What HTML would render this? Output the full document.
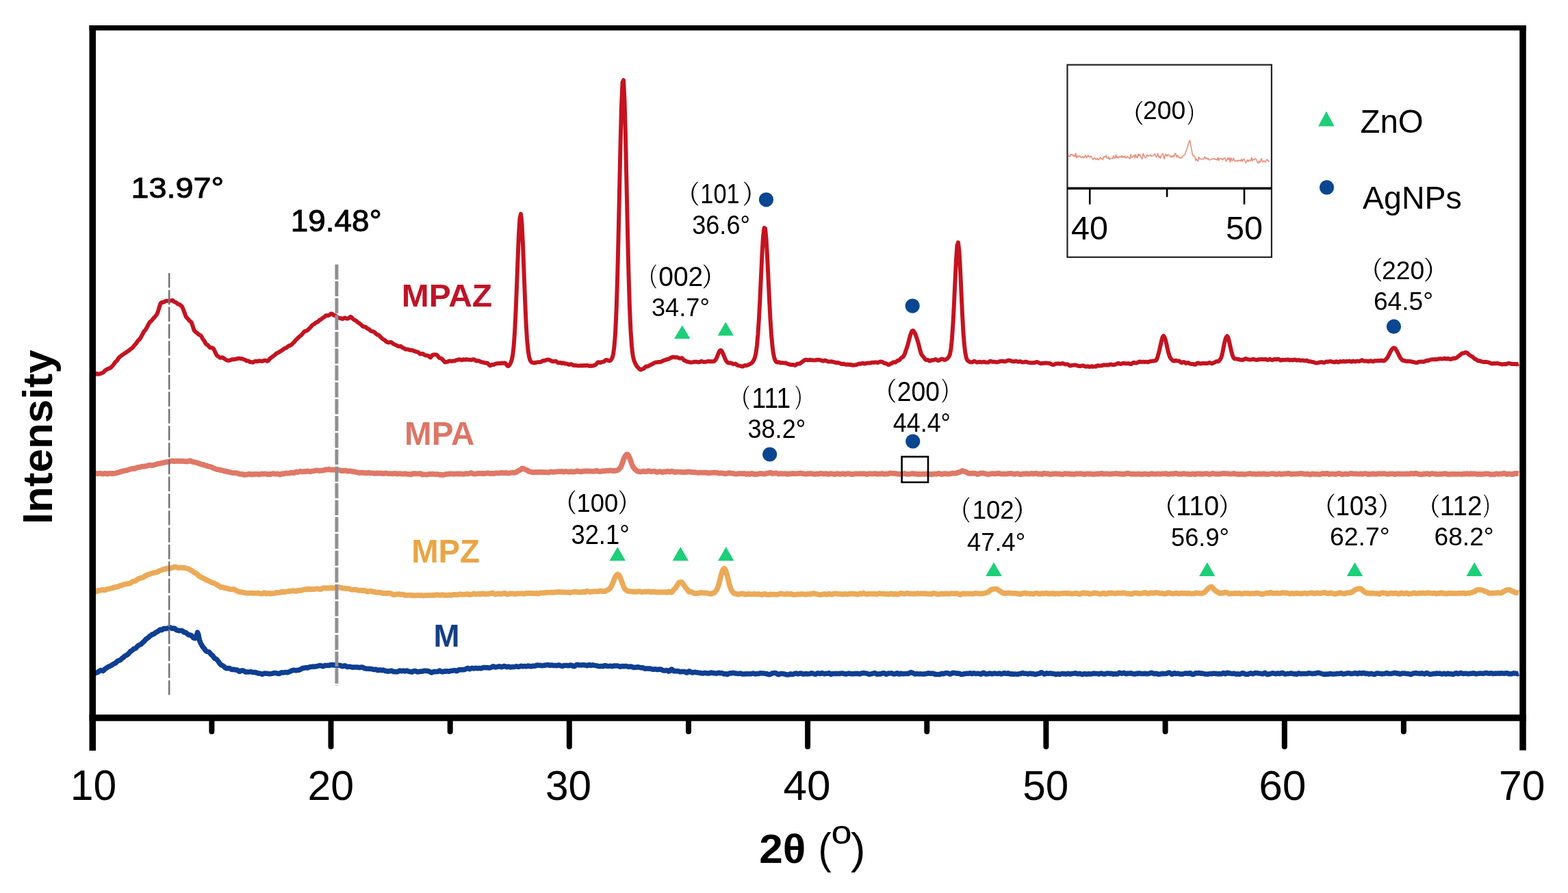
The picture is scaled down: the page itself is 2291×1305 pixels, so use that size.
<!DOCTYPE html>
<html><head><meta charset="utf-8"><title>XRD patterns</title>
<style>html,body{margin:0;padding:0;background:#fff;}svg{display:block;}</style></head>
<body>
<svg width="2291" height="1305" viewBox="0 0 2291 1305" font-family="'Liberation Sans', sans-serif">
<rect width="2291" height="1305" fill="#fff"/>
<path d="M137.0,985.5 L138.5,983.9 L140.0,983.3 L141.5,982.9 L143.0,982.1 L144.5,981.1 L146.0,980.1 L147.5,979.6 L149.0,980.0 L150.5,980.4 L152.0,979.1 L153.5,977.5 L155.0,976.6 L156.5,975.6 L158.0,974.5 L159.5,973.9 L161.0,973.3 L162.5,972.5 L164.0,971.6 L165.5,970.5 L167.0,969.7 L168.5,969.2 L170.0,967.9 L171.5,966.3 L173.0,965.4 L174.5,965.1 L176.0,964.4 L177.5,962.8 L179.0,961.6 L180.5,960.6 L182.0,959.0 L183.5,958.0 L185.0,957.5 L186.5,956.4 L188.0,955.1 L189.5,953.3 L191.0,951.6 L192.5,951.0 L194.0,949.7 L195.5,948.2 L197.0,947.9 L198.5,947.2 L200.0,945.4 L201.5,943.9 L203.0,942.9 L204.5,942.2 L206.0,941.4 L207.5,940.0 L209.0,938.6 L210.5,937.3 L212.0,935.5 L213.5,933.9 L215.0,933.1 L216.5,932.0 L218.0,930.4 L219.5,929.3 L221.0,928.2 L222.5,927.0 L224.0,926.9 L225.5,926.1 L227.0,924.6 L228.5,923.8 L230.0,923.2 L231.5,922.2 L233.0,920.7 L234.5,920.1 L236.0,920.7 L237.5,920.1 L239.0,918.7 L240.5,918.5 L242.0,918.7 L243.5,918.6 L245.0,918.3 L246.5,917.6 L248.0,916.9 L249.5,917.3 L251.0,918.2 L252.5,918.5 L254.0,918.1 L255.5,918.6 L257.0,920.1 L258.5,920.9 L260.0,921.2 L261.5,921.7 L263.0,921.6 L264.5,921.4 L266.0,921.6 L267.5,922.8 L269.0,924.0 L270.5,924.2 L272.0,924.8 L273.5,926.1 L275.0,927.3 L276.5,928.0 L278.0,928.0 L279.5,928.6 L281.0,930.3 L282.5,932.0 L284.0,932.8 L285.5,932.7 L287.0,929.3 L288.5,924.2 L290.0,928.0 L291.5,935.7 L293.0,939.5 L294.5,942.3 L296.0,945.1 L297.5,946.6 L299.0,948.6 L300.5,950.7 L302.0,952.1 L303.5,952.4 L305.0,952.6 L306.5,954.0 L308.0,955.9 L309.5,957.2 L311.0,958.4 L312.5,960.8 L314.0,962.5 L315.5,962.9 L317.0,964.1 L318.5,965.9 L320.0,968.0 L321.5,970.3 L323.0,971.7 L324.5,972.2 L326.0,973.0 L327.5,974.3 L329.0,975.7 L330.5,976.7 L332.0,976.8 L333.5,976.4 L335.0,976.4 L336.5,977.2 L338.0,978.3 L339.5,978.5 L341.0,978.2 L342.5,978.5 L344.0,979.0 L345.5,979.0 L347.0,979.3 L348.5,980.6 L350.0,981.4 L351.5,980.7 L353.0,980.0 L354.5,979.9 L356.0,980.3 L357.5,981.3 L359.0,981.9 L360.5,981.9 L362.0,982.0 L363.5,982.1 L365.0,981.9 L366.5,981.6 L368.0,982.0 L369.5,982.5 L371.0,982.5 L372.5,982.5 L374.0,982.8 L375.5,983.4 L377.0,983.9 L378.5,983.9 L380.0,984.1 L381.5,984.8 L383.0,985.3 L384.5,984.9 L386.0,984.0 L387.5,984.1 L389.0,984.2 L390.5,984.2 L392.0,984.6 L393.5,984.8 L395.0,984.6 L396.5,984.4 L398.0,984.3 L399.5,983.8 L401.0,983.5 L402.5,983.6 L404.0,983.7 L405.5,984.3 L407.0,984.6 L408.5,984.3 L410.0,983.4 L411.5,982.7 L413.0,982.9 L414.5,982.9 L416.0,982.6 L417.5,982.6 L419.0,982.7 L420.5,982.5 L422.0,981.9 L423.5,981.5 L425.0,980.7 L426.5,979.9 L428.0,979.5 L429.5,979.3 L431.0,979.6 L432.5,979.8 L434.0,979.4 L435.5,979.3 L437.0,979.2 L438.5,978.5 L440.0,977.7 L441.5,976.8 L443.0,976.3 L444.5,976.2 L446.0,975.8 L447.5,975.8 L449.0,976.0 L450.5,975.7 L452.0,975.0 L453.5,974.4 L455.0,974.4 L456.5,974.2 L458.0,974.1 L459.5,974.2 L461.0,974.0 L462.5,973.7 L464.0,973.4 L465.5,973.0 L467.0,972.6 L468.5,972.7 L470.0,973.1 L471.5,973.8 L473.0,973.6 L474.5,972.5 L476.0,972.6 L477.5,972.6 L479.0,972.4 L480.5,972.6 L482.0,972.1 L483.5,971.5 L485.0,971.8 L486.5,972.1 L488.0,971.8 L489.5,971.8 L491.0,972.5 L492.5,972.7 L494.0,972.1 L495.5,972.2 L497.0,972.5 L498.5,973.1 L500.0,973.8 L501.5,973.5 L503.0,972.8 L504.5,972.9 L506.0,973.9 L507.5,974.7 L509.0,974.3 L510.5,974.1 L512.0,974.4 L513.5,974.8 L515.0,975.3 L516.5,974.9 L518.0,974.9 L519.5,975.1 L521.0,974.9 L522.5,975.0 L524.0,975.6 L525.5,975.6 L527.0,975.1 L528.5,974.9 L530.0,975.2 L531.5,976.1 L533.0,976.8 L534.5,977.1 L536.0,977.3 L537.5,977.2 L539.0,977.2 L540.5,977.5 L542.0,977.6 L543.5,977.7 L545.0,978.2 L546.5,978.6 L548.0,978.3 L549.5,978.3 L551.0,979.1 L552.5,979.6 L554.0,979.1 L555.5,978.9 L557.0,979.4 L558.5,979.5 L560.0,979.1 L561.5,979.8 L563.0,980.4 L564.5,980.4 L566.0,981.0 L567.5,981.0 L569.0,980.7 L570.5,980.6 L572.0,980.2 L573.5,980.8 L575.0,981.5 L576.5,981.5 L578.0,981.7 L579.5,981.7 L581.0,981.5 L582.5,980.8 L584.0,980.0 L585.5,980.4 L587.0,980.8 L588.5,980.3 L590.0,980.3 L591.5,980.9 L593.0,980.6 L594.5,980.1 L596.0,980.7 L597.5,981.3 L599.0,981.4 L600.5,981.9 L602.0,982.1 L603.5,981.3 L605.0,980.4 L606.5,980.4 L608.0,981.1 L609.5,981.7 L611.0,981.7 L612.5,981.5 L614.0,981.3 L615.5,981.2 L617.0,981.1 L618.5,980.8 L620.0,980.3 L621.5,980.2 L623.0,980.5 L624.5,980.5 L626.0,980.8 L627.5,981.4 L629.0,982.1 L630.5,982.9 L632.0,982.3 L633.5,981.5 L635.0,981.7 L636.5,981.6 L638.0,981.5 L639.5,981.6 L641.0,980.7 L642.5,980.1 L644.0,981.0 L645.5,981.7 L647.0,981.8 L648.5,981.1 L650.0,980.8 L651.5,981.2 L653.0,980.7 L654.5,980.9 L656.0,981.2 L657.5,980.7 L659.0,980.2 L660.5,980.3 L662.0,980.1 L663.5,979.7 L665.0,979.8 L666.5,980.4 L668.0,980.4 L669.5,979.3 L671.0,978.6 L672.5,978.9 L674.0,978.7 L675.5,978.6 L677.0,978.7 L678.5,978.6 L680.0,978.0 L681.5,977.1 L683.0,976.4 L684.5,976.9 L686.0,977.8 L687.5,977.1 L689.0,976.4 L690.5,976.4 L692.0,976.9 L693.5,976.7 L695.0,976.3 L696.5,976.6 L698.0,976.8 L699.5,976.5 L701.0,976.4 L702.5,976.8 L704.0,976.5 L705.5,975.7 L707.0,975.4 L708.5,975.5 L710.0,975.7 L711.5,975.7 L713.0,975.8 L714.5,975.9 L716.0,975.9 L717.5,975.5 L719.0,974.5 L720.5,973.8 L722.0,974.4 L723.5,974.9 L725.0,974.8 L726.5,974.6 L728.0,974.2 L729.5,973.8 L731.0,974.1 L732.5,974.7 L734.0,974.5 L735.5,973.7 L737.0,973.4 L738.5,974.0 L740.0,974.8 L741.5,974.4 L743.0,974.1 L744.5,974.7 L746.0,975.1 L747.5,974.8 L749.0,974.6 L750.5,974.6 L752.0,974.4 L753.5,974.0 L755.0,973.8 L756.5,974.2 L758.0,974.5 L759.5,974.0 L761.0,973.2 L762.5,973.5 L764.0,973.9 L765.5,973.5 L767.0,973.6 L768.5,973.9 L770.0,973.6 L771.5,973.1 L773.0,973.2 L774.5,973.8 L776.0,973.9 L777.5,973.4 L779.0,973.1 L780.5,973.3 L782.0,973.2 L783.5,972.4 L785.0,972.0 L786.5,972.3 L788.0,972.2 L789.5,972.2 L791.0,972.7 L792.5,972.7 L794.0,972.4 L795.5,972.3 L797.0,972.0 L798.5,972.0 L800.0,971.6 L801.5,971.7 L803.0,972.4 L804.5,972.2 L806.0,971.9 L807.5,972.2 L809.0,972.5 L810.5,972.5 L812.0,972.6 L813.5,972.7 L815.0,972.2 L816.5,971.9 L818.0,972.3 L819.5,973.0 L821.0,973.4 L822.5,973.2 L824.0,972.6 L825.5,972.5 L827.0,972.6 L828.5,972.5 L830.0,972.8 L831.5,972.7 L833.0,972.1 L834.5,972.1 L836.0,972.6 L837.5,973.6 L839.0,973.8 L840.5,972.8 L842.0,971.7 L843.5,971.3 L845.0,971.8 L846.5,972.0 L848.0,971.9 L849.5,972.0 L851.0,971.7 L852.5,971.8 L854.0,972.0 L855.5,972.0 L857.0,972.7 L858.5,972.7 L860.0,971.7 L861.5,971.6 L863.0,972.4 L864.5,972.3 L866.0,971.8 L867.5,972.1 L869.0,972.4 L870.5,972.6 L872.0,973.0 L873.5,973.3 L875.0,973.8 L876.5,973.8 L878.0,973.5 L879.5,973.6 L881.0,973.7 L882.5,973.1 L884.0,972.6 L885.5,972.9 L887.0,973.4 L888.5,973.6 L890.0,973.4 L891.5,973.2 L893.0,973.5 L894.5,973.8 L896.0,973.3 L897.5,973.0 L899.0,973.0 L900.5,973.0 L902.0,973.1 L903.5,973.3 L905.0,973.9 L906.5,974.3 L908.0,973.8 L909.5,973.5 L911.0,973.8 L912.5,973.8 L914.0,973.4 L915.5,973.5 L917.0,974.1 L918.5,974.5 L920.0,974.3 L921.5,974.0 L923.0,974.2 L924.5,975.0 L926.0,975.6 L927.5,975.3 L929.0,975.2 L930.5,975.1 L932.0,974.8 L933.5,975.0 L935.0,975.4 L936.5,975.8 L938.0,975.7 L939.5,975.7 L941.0,976.8 L942.5,977.3 L944.0,976.9 L945.5,976.9 L947.0,977.2 L948.5,977.1 L950.0,977.1 L951.5,977.6 L953.0,978.0 L954.5,978.2 L956.0,978.1 L957.5,977.8 L959.0,978.2 L960.5,978.5 L962.0,978.2 L963.5,978.2 L965.0,978.1 L966.5,978.4 L968.0,979.5 L969.5,979.9 L971.0,979.9 L972.5,980.0 L974.0,979.6 L975.5,980.1 L977.0,981.1 L978.5,980.5 L980.0,978.7 L981.5,978.1 L983.0,979.5 L984.5,980.7 L986.0,980.6 L987.5,980.7 L989.0,980.9 L990.5,980.7 L992.0,981.1 L993.5,981.7 L995.0,981.7 L996.5,981.5 L998.0,981.4 L999.5,981.5 L1001.0,981.8 L1002.5,982.8 L1004.0,983.1 L1005.5,981.7 L1007.0,980.8 L1008.5,981.5 L1010.0,982.5 L1011.5,983.1 L1013.0,982.9 L1014.5,982.2 L1016.0,982.3 L1017.5,982.8 L1019.0,982.8 L1020.5,983.1 L1022.0,983.3 L1023.5,983.5 L1025.0,983.8 L1026.5,984.0 L1028.0,983.7 L1029.5,983.3 L1031.0,983.4 L1032.5,983.7 L1034.0,984.0 L1035.5,984.1 L1037.0,983.6 L1038.5,983.1 L1040.0,983.1 L1041.5,983.5 L1043.0,983.8 L1044.5,983.8 L1046.0,984.2 L1047.5,984.1 L1049.0,983.5 L1050.5,983.2 L1052.0,983.8 L1053.5,983.8 L1055.0,983.5 L1056.5,984.4 L1058.0,985.0 L1059.5,984.6 L1061.0,984.8 L1062.5,985.5 L1064.0,984.9 L1065.5,983.9 L1067.0,983.8 L1068.5,984.0 L1070.0,983.5 L1071.5,983.2 L1073.0,983.8 L1074.5,984.1 L1076.0,984.1 L1077.5,984.4 L1079.0,984.6 L1080.5,984.2 L1082.0,984.0 L1083.5,984.7 L1085.0,985.0 L1086.5,984.9 L1088.0,985.0 L1089.5,984.7 L1091.0,984.6 L1092.5,984.9 L1094.0,984.7 L1095.5,984.7 L1097.0,984.7 L1098.5,984.4 L1100.0,984.0 L1101.5,984.2 L1103.0,984.9 L1104.5,984.9 L1106.0,984.6 L1107.5,984.5 L1109.0,984.4 L1110.5,983.8 L1112.0,983.7 L1113.5,984.1 L1115.0,984.0 L1116.5,984.1 L1118.0,984.4 L1119.5,984.5 L1121.0,984.8 L1122.5,985.5 L1124.0,985.7 L1125.5,985.4 L1127.0,984.7 L1128.5,984.0 L1130.0,983.7 L1131.5,983.6 L1133.0,983.4 L1134.5,984.0 L1136.0,985.2 L1137.5,985.7 L1139.0,985.2 L1140.5,984.5 L1142.0,984.4 L1143.5,984.5 L1145.0,984.8 L1146.5,984.9 L1148.0,985.5 L1149.5,986.1 L1151.0,986.1 L1152.5,985.9 L1154.0,985.1 L1155.5,984.8 L1157.0,985.5 L1158.5,985.5 L1160.0,984.7 L1161.5,984.2 L1163.0,983.9 L1164.5,984.4 L1166.0,984.9 L1167.5,984.6 L1169.0,984.0 L1170.5,983.9 L1172.0,984.6 L1173.5,985.1 L1175.0,985.1 L1176.5,984.5 L1178.0,984.5 L1179.5,985.1 L1181.0,984.9 L1182.5,984.7 L1184.0,984.4 L1185.5,983.7 L1187.0,984.0 L1188.5,984.6 L1190.0,985.0 L1191.5,985.4 L1193.0,984.7 L1194.5,983.8 L1196.0,984.0 L1197.5,984.6 L1199.0,984.4 L1200.5,983.6 L1202.0,983.7 L1203.5,984.5 L1205.0,984.8 L1206.5,984.2 L1208.0,984.2 L1209.5,984.3 L1211.0,983.6 L1212.5,984.2 L1214.0,985.4 L1215.5,985.0 L1217.0,984.4 L1218.5,984.4 L1220.0,984.6 L1221.5,984.3 L1223.0,984.4 L1224.5,984.4 L1226.0,984.3 L1227.5,984.4 L1229.0,984.0 L1230.5,983.9 L1232.0,984.3 L1233.5,984.5 L1235.0,984.9 L1236.5,985.0 L1238.0,984.5 L1239.5,984.1 L1241.0,984.1 L1242.5,984.5 L1244.0,984.8 L1245.5,984.7 L1247.0,984.7 L1248.5,984.4 L1250.0,984.3 L1251.5,984.5 L1253.0,984.3 L1254.5,984.6 L1256.0,985.0 L1257.5,984.4 L1259.0,983.9 L1260.5,983.7 L1262.0,983.6 L1263.5,983.7 L1265.0,983.9 L1266.5,984.2 L1268.0,984.8 L1269.5,985.3 L1271.0,985.2 L1272.5,984.9 L1274.0,984.6 L1275.5,984.2 L1277.0,983.7 L1278.5,983.6 L1280.0,984.5 L1281.5,985.4 L1283.0,985.0 L1284.5,984.8 L1286.0,985.1 L1287.5,984.6 L1289.0,983.9 L1290.5,983.6 L1292.0,983.8 L1293.5,984.7 L1295.0,985.3 L1296.5,984.7 L1298.0,983.9 L1299.5,984.0 L1301.0,983.9 L1302.5,983.7 L1304.0,984.4 L1305.5,984.9 L1307.0,985.0 L1308.5,984.6 L1310.0,983.7 L1311.5,983.8 L1313.0,985.0 L1314.5,985.0 L1316.0,984.1 L1317.5,984.3 L1319.0,984.7 L1320.5,984.8 L1322.0,984.6 L1323.5,984.4 L1325.0,984.5 L1326.5,984.6 L1328.0,984.1 L1329.5,983.0 L1331.0,982.6 L1332.5,983.1 L1334.0,983.7 L1335.5,984.4 L1337.0,985.0 L1338.5,984.7 L1340.0,984.4 L1341.5,984.7 L1343.0,984.9 L1344.5,984.7 L1346.0,984.9 L1347.5,985.1 L1349.0,985.1 L1350.5,985.1 L1352.0,984.7 L1353.5,984.6 L1355.0,984.1 L1356.5,983.7 L1358.0,984.0 L1359.5,984.3 L1361.0,984.2 L1362.5,984.1 L1364.0,984.2 L1365.5,985.1 L1367.0,985.6 L1368.5,985.4 L1370.0,985.4 L1371.5,985.6 L1373.0,985.6 L1374.5,984.7 L1376.0,984.2 L1377.5,984.8 L1379.0,984.5 L1380.5,983.9 L1382.0,983.6 L1383.5,983.6 L1385.0,983.8 L1386.5,984.3 L1388.0,985.1 L1389.5,984.8 L1391.0,983.6 L1392.5,983.3 L1394.0,983.5 L1395.5,983.5 L1397.0,984.0 L1398.5,984.3 L1400.0,984.0 L1401.5,984.2 L1403.0,984.9 L1404.5,985.6 L1406.0,985.5 L1407.5,985.0 L1409.0,984.7 L1410.5,984.4 L1412.0,984.3 L1413.5,984.3 L1415.0,984.3 L1416.5,983.9 L1418.0,983.8 L1419.5,984.4 L1421.0,984.4 L1422.5,983.8 L1424.0,983.9 L1425.5,984.5 L1427.0,984.4 L1428.5,984.2 L1430.0,984.3 L1431.5,984.7 L1433.0,985.2 L1434.5,984.7 L1436.0,983.5 L1437.5,983.2 L1439.0,984.3 L1440.5,985.1 L1442.0,985.0 L1443.5,984.8 L1445.0,984.2 L1446.5,983.9 L1448.0,984.5 L1449.5,984.8 L1451.0,984.5 L1452.5,984.0 L1454.0,984.1 L1455.5,984.4 L1457.0,984.6 L1458.5,984.3 L1460.0,983.9 L1461.5,984.4 L1463.0,984.9 L1464.5,984.6 L1466.0,983.9 L1467.5,983.6 L1469.0,984.1 L1470.5,984.5 L1472.0,983.8 L1473.5,983.8 L1475.0,984.8 L1476.5,985.1 L1478.0,984.8 L1479.5,985.0 L1481.0,985.2 L1482.5,985.1 L1484.0,985.1 L1485.5,985.3 L1487.0,985.3 L1488.5,985.0 L1490.0,984.5 L1491.5,984.4 L1493.0,983.8 L1494.5,983.6 L1496.0,984.2 L1497.5,984.3 L1499.0,984.3 L1500.5,984.5 L1502.0,985.0 L1503.5,984.6 L1505.0,984.0 L1506.5,984.5 L1508.0,984.8 L1509.5,984.5 L1511.0,985.0 L1512.5,985.7 L1514.0,985.3 L1515.5,984.6 L1517.0,984.4 L1518.5,984.3 L1520.0,983.3 L1521.5,982.6 L1523.0,983.3 L1524.5,984.3 L1526.0,985.1 L1527.5,984.7 L1529.0,983.8 L1530.5,983.9 L1532.0,984.3 L1533.5,984.1 L1535.0,984.0 L1536.5,984.3 L1538.0,984.5 L1539.5,984.6 L1541.0,984.9 L1542.5,985.5 L1544.0,985.2 L1545.5,984.7 L1547.0,985.3 L1548.5,985.4 L1550.0,984.9 L1551.5,984.5 L1553.0,984.5 L1554.5,984.7 L1556.0,984.8 L1557.5,985.1 L1559.0,984.8 L1560.5,984.2 L1562.0,984.4 L1563.5,985.0 L1565.0,984.9 L1566.5,984.4 L1568.0,984.3 L1569.5,984.1 L1571.0,983.7 L1572.5,984.0 L1574.0,984.8 L1575.5,984.7 L1577.0,984.3 L1578.5,984.5 L1580.0,985.3 L1581.5,985.5 L1583.0,984.9 L1584.5,984.5 L1586.0,984.7 L1587.5,985.3 L1589.0,985.1 L1590.5,984.6 L1592.0,984.9 L1593.5,985.0 L1595.0,984.8 L1596.5,984.6 L1598.0,984.1 L1599.5,984.2 L1601.0,984.6 L1602.5,984.4 L1604.0,984.5 L1605.5,985.1 L1607.0,984.7 L1608.5,984.0 L1610.0,984.2 L1611.5,984.9 L1613.0,985.1 L1614.5,985.0 L1616.0,984.6 L1617.5,983.9 L1619.0,983.9 L1620.5,984.2 L1622.0,984.5 L1623.5,984.2 L1625.0,984.4 L1626.5,985.2 L1628.0,984.9 L1629.5,984.6 L1631.0,985.1 L1632.5,985.1 L1634.0,984.1 L1635.5,983.0 L1637.0,983.5 L1638.5,984.3 L1640.0,984.0 L1641.5,983.2 L1643.0,983.4 L1644.5,984.6 L1646.0,984.7 L1647.5,984.1 L1649.0,984.2 L1650.5,984.1 L1652.0,983.8 L1653.5,984.1 L1655.0,984.6 L1656.5,985.0 L1658.0,985.1 L1659.5,984.6 L1661.0,984.3 L1662.5,984.4 L1664.0,983.9 L1665.5,984.0 L1667.0,984.6 L1668.5,984.5 L1670.0,984.5 L1671.5,984.5 L1673.0,984.2 L1674.5,984.6 L1676.0,984.7 L1677.5,984.6 L1679.0,984.4 L1680.5,983.7 L1682.0,983.2 L1683.5,983.6 L1685.0,984.1 L1686.5,984.7 L1688.0,984.6 L1689.5,984.2 L1691.0,984.6 L1692.5,985.3 L1694.0,985.3 L1695.5,984.9 L1697.0,984.6 L1698.5,984.3 L1700.0,984.4 L1701.5,984.6 L1703.0,984.5 L1704.5,984.3 L1706.0,983.6 L1707.5,983.0 L1709.0,983.2 L1710.5,984.1 L1712.0,985.2 L1713.5,985.0 L1715.0,983.9 L1716.5,983.6 L1718.0,984.5 L1719.5,984.5 L1721.0,984.1 L1722.5,984.6 L1724.0,985.0 L1725.5,985.1 L1727.0,985.0 L1728.5,984.9 L1730.0,984.5 L1731.5,984.0 L1733.0,983.9 L1734.5,984.2 L1736.0,984.4 L1737.5,983.8 L1739.0,983.6 L1740.5,984.6 L1742.0,985.4 L1743.5,985.5 L1745.0,984.9 L1746.5,983.8 L1748.0,983.6 L1749.5,984.0 L1751.0,983.8 L1752.5,983.4 L1754.0,984.0 L1755.5,984.3 L1757.0,984.0 L1758.5,984.5 L1760.0,984.9 L1761.5,984.9 L1763.0,985.1 L1764.5,985.2 L1766.0,984.9 L1767.5,984.6 L1769.0,984.6 L1770.5,984.7 L1772.0,984.3 L1773.5,984.1 L1775.0,984.4 L1776.5,984.3 L1778.0,984.6 L1779.5,985.0 L1781.0,984.7 L1782.5,984.6 L1784.0,985.0 L1785.5,984.6 L1787.0,983.5 L1788.5,983.7 L1790.0,984.8 L1791.5,984.4 L1793.0,983.2 L1794.5,983.3 L1796.0,983.9 L1797.5,984.0 L1799.0,984.4 L1800.5,984.6 L1802.0,984.3 L1803.5,984.1 L1805.0,984.8 L1806.5,985.2 L1808.0,984.7 L1809.5,985.0 L1811.0,985.2 L1812.5,984.9 L1814.0,984.2 L1815.5,983.6 L1817.0,983.9 L1818.5,984.7 L1820.0,985.3 L1821.5,985.3 L1823.0,985.3 L1824.5,984.9 L1826.0,984.1 L1827.5,983.8 L1829.0,984.3 L1830.5,984.7 L1832.0,984.2 L1833.5,983.6 L1835.0,983.5 L1836.5,983.6 L1838.0,983.9 L1839.5,983.9 L1841.0,984.1 L1842.5,984.5 L1844.0,984.8 L1845.5,984.8 L1847.0,983.7 L1848.5,983.3 L1850.0,984.6 L1851.5,985.5 L1853.0,985.4 L1854.5,984.9 L1856.0,984.7 L1857.5,984.2 L1859.0,983.7 L1860.5,983.9 L1862.0,984.3 L1863.5,984.6 L1865.0,984.7 L1866.5,984.0 L1868.0,984.1 L1869.5,984.6 L1871.0,984.1 L1872.5,983.4 L1874.0,983.3 L1875.5,984.1 L1877.0,985.0 L1878.5,985.0 L1880.0,984.6 L1881.5,984.4 L1883.0,984.6 L1884.5,984.4 L1886.0,983.9 L1887.5,984.0 L1889.0,984.6 L1890.5,984.9 L1892.0,984.7 L1893.5,985.0 L1895.0,985.2 L1896.5,984.2 L1898.0,983.8 L1899.5,984.6 L1901.0,984.7 L1902.5,984.5 L1904.0,984.4 L1905.5,984.4 L1907.0,984.4 L1908.5,984.5 L1910.0,984.4 L1911.5,983.8 L1913.0,983.7 L1914.5,984.1 L1916.0,984.3 L1917.5,984.5 L1919.0,984.4 L1920.5,984.1 L1922.0,984.2 L1923.5,983.8 L1925.0,983.3 L1926.5,983.3 L1928.0,983.6 L1929.5,984.0 L1931.0,984.5 L1932.5,984.9 L1934.0,985.2 L1935.5,985.5 L1937.0,985.3 L1938.5,984.9 L1940.0,985.3 L1941.5,985.1 L1943.0,984.5 L1944.5,984.6 L1946.0,985.0 L1947.5,984.9 L1949.0,984.9 L1950.5,984.9 L1952.0,984.7 L1953.5,984.4 L1955.0,984.4 L1956.5,984.4 L1958.0,984.2 L1959.5,983.8 L1961.0,984.4 L1962.5,985.1 L1964.0,984.9 L1965.5,984.6 L1967.0,984.4 L1968.5,983.9 L1970.0,983.7 L1971.5,983.9 L1973.0,984.4 L1974.5,984.5 L1976.0,984.4 L1977.5,984.2 L1979.0,983.7 L1980.5,983.6 L1982.0,984.4 L1983.5,984.7 L1985.0,983.8 L1986.5,983.3 L1988.0,984.0 L1989.5,984.2 L1991.0,983.6 L1992.5,983.5 L1994.0,983.8 L1995.5,984.4 L1997.0,984.3 L1998.5,984.3 L2000.0,985.0 L2001.5,984.7 L2003.0,984.3 L2004.5,984.6 L2006.0,985.0 L2007.5,985.6 L2009.0,985.3 L2010.5,984.3 L2012.0,983.9 L2013.5,983.9 L2015.0,984.2 L2016.5,984.4 L2018.0,984.5 L2019.5,984.9 L2021.0,984.6 L2022.5,984.4 L2024.0,984.3 L2025.5,983.4 L2027.0,983.6 L2028.5,984.4 L2030.0,984.4 L2031.5,984.4 L2033.0,984.3 L2034.5,984.1 L2036.0,983.8 L2037.5,983.2 L2039.0,983.4 L2040.5,984.2 L2042.0,984.0 L2043.5,984.1 L2045.0,985.0 L2046.5,985.0 L2048.0,984.2 L2049.5,983.9 L2051.0,983.9 L2052.5,984.0 L2054.0,984.4 L2055.5,984.5 L2057.0,984.6 L2058.5,984.8 L2060.0,985.2 L2061.5,985.6 L2063.0,985.0 L2064.5,984.1 L2066.0,984.1 L2067.5,983.7 L2069.0,983.6 L2070.5,984.1 L2072.0,984.1 L2073.5,984.2 L2075.0,984.5 L2076.5,984.0 L2078.0,983.8 L2079.5,984.5 L2081.0,985.0 L2082.5,984.4 L2084.0,983.6 L2085.5,983.6 L2087.0,984.5 L2088.5,985.3 L2090.0,985.3 L2091.5,985.1 L2093.0,984.9 L2094.5,984.5 L2096.0,984.5 L2097.5,984.4 L2099.0,983.9 L2100.5,984.2 L2102.0,984.3 L2103.5,984.1 L2105.0,984.6 L2106.5,985.0 L2108.0,984.7 L2109.5,984.2 L2111.0,984.5 L2112.5,985.1 L2114.0,984.8 L2115.5,984.1 L2117.0,984.5 L2118.5,984.9 L2120.0,984.6 L2121.5,985.0 L2123.0,985.5 L2124.5,984.8 L2126.0,984.0 L2127.5,983.6 L2129.0,984.1 L2130.5,984.8 L2132.0,984.3 L2133.5,983.5 L2135.0,983.6 L2136.5,984.2 L2138.0,984.4 L2139.5,984.3 L2141.0,984.3 L2142.5,984.3 L2144.0,984.4 L2145.5,984.7 L2147.0,984.5 L2148.5,984.2 L2150.0,984.2 L2151.5,984.1 L2153.0,983.8 L2154.5,984.1 L2156.0,984.7 L2157.5,984.8 L2159.0,984.4 L2160.5,984.2 L2162.0,984.1 L2163.5,983.9 L2165.0,984.1 L2166.5,984.4 L2168.0,984.2 L2169.5,983.7 L2171.0,983.4 L2172.5,983.4 L2174.0,984.0 L2175.5,984.2 L2177.0,984.0 L2178.5,983.8 L2180.0,984.0 L2181.5,984.6 L2183.0,984.4 L2184.5,984.0 L2186.0,984.2 L2187.5,984.1 L2189.0,983.9 L2190.5,984.2 L2192.0,984.1 L2193.5,983.8 L2195.0,983.9 L2196.5,984.1 L2198.0,984.2 L2199.5,983.9 L2201.0,983.6 L2202.5,983.8 L2204.0,984.5 L2205.5,984.8 L2207.0,984.8 L2208.5,984.8 L2210.0,984.3 L2211.5,983.8 L2213.0,984.0 L2214.5,984.0 L2216.0,984.4 L2217.5,984.7 L2219.0,984.3" fill="none" stroke="#0f3f92" stroke-width="7.5" stroke-linejoin="round"/><path d="M137.0,864.4 L138.5,864.5 L140.0,864.8 L141.5,864.1 L143.0,863.1 L144.5,862.9 L146.0,862.8 L147.5,862.4 L149.0,861.9 L150.5,862.0 L152.0,862.3 L153.5,862.2 L155.0,861.8 L156.5,861.0 L158.0,860.7 L159.5,860.6 L161.0,860.1 L162.5,859.8 L164.0,859.5 L165.5,858.7 L167.0,858.3 L168.5,858.0 L170.0,857.9 L171.5,857.7 L173.0,857.2 L174.5,856.2 L176.0,855.6 L177.5,855.5 L179.0,854.9 L180.5,854.1 L182.0,853.9 L183.5,853.6 L185.0,853.1 L186.5,853.1 L188.0,852.9 L189.5,852.6 L191.0,852.0 L192.5,850.6 L194.0,849.8 L195.5,849.5 L197.0,849.2 L198.5,848.5 L200.0,847.2 L201.5,846.3 L203.0,845.6 L204.5,845.0 L206.0,844.5 L207.5,844.2 L209.0,843.9 L210.5,842.7 L212.0,841.8 L213.5,841.1 L215.0,840.2 L216.5,839.5 L218.0,839.2 L219.5,838.7 L221.0,838.1 L222.5,837.8 L224.0,837.3 L225.5,836.8 L227.0,836.6 L228.5,836.2 L230.0,835.7 L231.5,834.9 L233.0,834.2 L234.5,833.6 L236.0,833.0 L237.5,832.7 L239.0,831.8 L240.5,831.4 L242.0,831.6 L243.5,830.7 L245.0,830.3 L246.5,830.7 L248.0,830.6 L249.5,830.2 L251.0,829.7 L252.5,829.2 L254.0,828.6 L255.5,828.3 L257.0,828.6 L258.5,829.1 L260.0,829.7 L261.5,829.8 L263.0,829.5 L264.5,829.7 L266.0,829.8 L267.5,829.8 L269.0,829.7 L270.5,829.9 L272.0,830.4 L273.5,830.9 L275.0,831.4 L276.5,832.0 L278.0,832.7 L279.5,833.5 L281.0,834.5 L282.5,835.8 L284.0,836.7 L285.5,837.4 L287.0,838.3 L288.5,839.6 L290.0,841.0 L291.5,842.1 L293.0,843.0 L294.5,843.9 L296.0,844.7 L297.5,845.2 L299.0,845.9 L300.5,847.0 L302.0,847.8 L303.5,848.3 L305.0,849.1 L306.5,849.6 L308.0,850.4 L309.5,851.3 L311.0,851.7 L312.5,852.1 L314.0,852.8 L315.5,853.5 L317.0,854.7 L318.5,855.4 L320.0,856.2 L321.5,857.7 L323.0,858.2 L324.5,858.0 L326.0,858.3 L327.5,859.1 L329.0,859.5 L330.5,859.4 L332.0,859.8 L333.5,860.5 L335.0,860.8 L336.5,861.2 L338.0,861.3 L339.5,861.2 L341.0,861.0 L342.5,861.3 L344.0,862.5 L345.5,863.5 L347.0,863.7 L348.5,864.5 L350.0,865.0 L351.5,865.0 L353.0,865.3 L354.5,865.6 L356.0,865.8 L357.5,866.2 L359.0,866.5 L360.5,866.8 L362.0,866.8 L363.5,866.6 L365.0,866.6 L366.5,866.5 L368.0,866.6 L369.5,866.8 L371.0,866.8 L372.5,866.8 L374.0,866.8 L375.5,866.6 L377.0,866.6 L378.5,866.9 L380.0,867.3 L381.5,867.5 L383.0,867.8 L384.5,867.0 L386.0,866.1 L387.5,866.8 L389.0,867.7 L390.5,867.5 L392.0,867.0 L393.5,867.0 L395.0,867.5 L396.5,867.5 L398.0,867.2 L399.5,867.1 L401.0,867.1 L402.5,866.6 L404.0,865.9 L405.5,866.0 L407.0,866.0 L408.5,865.8 L410.0,865.7 L411.5,865.0 L413.0,864.4 L414.5,865.2 L416.0,865.5 L417.5,864.8 L419.0,864.5 L420.5,864.2 L422.0,863.9 L423.5,864.0 L425.0,863.9 L426.5,863.5 L428.0,863.2 L429.5,863.3 L431.0,863.9 L432.5,864.0 L434.0,863.5 L435.5,862.8 L437.0,862.6 L438.5,863.0 L440.0,862.9 L441.5,862.2 L443.0,861.9 L444.5,861.4 L446.0,861.4 L447.5,861.6 L449.0,860.9 L450.5,860.7 L452.0,861.2 L453.5,861.4 L455.0,861.2 L456.5,861.1 L458.0,860.9 L459.5,861.0 L461.0,860.8 L462.5,860.5 L464.0,860.5 L465.5,860.7 L467.0,861.1 L468.5,861.2 L470.0,860.4 L471.5,859.7 L473.0,859.2 L474.5,859.2 L476.0,859.5 L477.5,859.5 L479.0,859.4 L480.5,859.5 L482.0,859.3 L483.5,858.7 L485.0,858.8 L486.5,859.5 L488.0,859.4 L489.5,859.1 L491.0,859.1 L492.5,858.7 L494.0,858.2 L495.5,858.1 L497.0,858.6 L498.5,859.2 L500.0,859.5 L501.5,859.7 L503.0,859.6 L504.5,859.9 L506.0,860.2 L507.5,860.1 L509.0,860.1 L510.5,860.5 L512.0,861.1 L513.5,861.6 L515.0,861.8 L516.5,861.7 L518.0,861.7 L519.5,861.7 L521.0,861.9 L522.5,862.4 L524.0,862.9 L525.5,862.8 L527.0,862.6 L528.5,862.9 L530.0,863.1 L531.5,863.0 L533.0,863.0 L534.5,863.6 L536.0,864.5 L537.5,864.6 L539.0,864.2 L540.5,863.8 L542.0,863.8 L543.5,864.3 L545.0,864.8 L546.5,865.0 L548.0,865.0 L549.5,865.6 L551.0,865.9 L552.5,865.7 L554.0,865.8 L555.5,865.9 L557.0,866.2 L558.5,866.8 L560.0,867.1 L561.5,866.8 L563.0,866.9 L564.5,867.1 L566.0,866.8 L567.5,866.8 L569.0,866.9 L570.5,867.2 L572.0,867.8 L573.5,868.6 L575.0,869.1 L576.5,869.2 L578.0,868.8 L579.5,868.4 L581.0,868.3 L582.5,868.1 L584.0,868.2 L585.5,868.9 L587.0,868.8 L588.5,868.5 L590.0,869.0 L591.5,869.8 L593.0,870.0 L594.5,869.8 L596.0,869.8 L597.5,869.7 L599.0,869.7 L600.5,870.0 L602.0,870.0 L603.5,870.0 L605.0,870.4 L606.5,870.2 L608.0,870.1 L609.5,869.9 L611.0,869.8 L612.5,870.1 L614.0,870.2 L615.5,869.9 L617.0,870.2 L618.5,870.6 L620.0,870.2 L621.5,870.1 L623.0,870.2 L624.5,870.0 L626.0,869.9 L627.5,869.9 L629.0,870.0 L630.5,869.8 L632.0,869.8 L633.5,870.1 L635.0,869.9 L636.5,869.4 L638.0,869.2 L639.5,869.3 L641.0,869.5 L642.5,869.8 L644.0,869.7 L645.5,869.2 L647.0,869.3 L648.5,869.8 L650.0,869.7 L651.5,869.8 L653.0,870.0 L654.5,869.7 L656.0,869.4 L657.5,869.6 L659.0,869.9 L660.5,869.6 L662.0,869.1 L663.5,868.9 L665.0,868.9 L666.5,869.2 L668.0,869.3 L669.5,868.9 L671.0,868.3 L672.5,868.2 L674.0,868.7 L675.5,868.8 L677.0,868.7 L678.5,868.8 L680.0,868.5 L681.5,868.2 L683.0,868.1 L684.5,868.4 L686.0,869.2 L687.5,868.9 L689.0,868.5 L690.5,868.2 L692.0,867.6 L693.5,867.9 L695.0,868.3 L696.5,868.2 L698.0,868.0 L699.5,867.8 L701.0,868.2 L702.5,868.3 L704.0,867.4 L705.5,867.3 L707.0,867.9 L708.5,868.1 L710.0,868.0 L711.5,868.2 L713.0,868.0 L714.5,867.6 L716.0,867.6 L717.5,867.2 L719.0,866.6 L720.5,866.9 L722.0,867.9 L723.5,868.4 L725.0,868.3 L726.5,867.6 L728.0,867.5 L729.5,867.9 L731.0,867.9 L732.5,868.0 L734.0,867.8 L735.5,867.1 L737.0,866.6 L738.5,867.3 L740.0,868.2 L741.5,868.5 L743.0,868.2 L744.5,867.6 L746.0,867.3 L747.5,867.3 L749.0,867.6 L750.5,867.7 L752.0,868.0 L753.5,868.1 L755.0,867.6 L756.5,867.3 L758.0,867.3 L759.5,867.5 L761.0,867.4 L762.5,867.3 L764.0,867.7 L765.5,867.9 L767.0,867.5 L768.5,866.9 L770.0,866.8 L771.5,867.0 L773.0,866.9 L774.5,866.8 L776.0,867.1 L777.5,867.2 L779.0,867.0 L780.5,867.4 L782.0,867.4 L783.5,866.9 L785.0,867.4 L786.5,867.7 L788.0,867.0 L789.5,866.5 L791.0,866.3 L792.5,866.4 L794.0,866.5 L795.5,866.4 L797.0,866.0 L798.5,865.9 L800.0,865.9 L801.5,865.8 L803.0,865.9 L804.5,865.8 L806.0,865.7 L807.5,865.9 L809.0,865.8 L810.5,865.3 L812.0,865.5 L813.5,865.4 L815.0,865.1 L816.5,865.0 L818.0,865.1 L819.5,865.3 L821.0,865.4 L822.5,865.4 L824.0,865.5 L825.5,865.5 L827.0,865.7 L828.5,865.7 L830.0,865.3 L831.5,865.8 L833.0,866.1 L834.5,865.5 L836.0,865.3 L837.5,865.2 L839.0,865.0 L840.5,864.9 L842.0,864.9 L843.5,865.3 L845.0,865.3 L846.5,865.3 L848.0,865.5 L849.5,865.5 L851.0,865.0 L852.5,864.9 L854.0,865.4 L855.5,865.1 L857.0,863.9 L858.5,863.7 L860.0,864.4 L861.5,865.0 L863.0,865.0 L864.5,864.6 L866.0,864.6 L867.5,864.5 L869.0,864.2 L870.5,864.3 L872.0,864.3 L873.5,864.3 L875.0,864.1 L876.5,863.6 L878.0,863.6 L879.5,864.0 L881.0,864.1 L882.5,864.1 L884.0,864.1 L885.5,863.4 L887.0,862.5 L888.5,862.0 L890.0,861.0 L891.5,859.4 L893.0,857.2 L894.5,854.1 L896.0,850.5 L897.5,846.5 L899.0,843.0 L900.5,840.6 L902.0,839.4 L903.5,839.7 L905.0,841.5 L906.5,844.7 L908.0,848.6 L909.5,852.8 L911.0,857.0 L912.5,860.0 L914.0,861.6 L915.5,862.7 L917.0,863.7 L918.5,864.1 L920.0,864.1 L921.5,864.3 L923.0,864.4 L924.5,864.6 L926.0,865.0 L927.5,864.7 L929.0,864.6 L930.5,864.8 L932.0,864.5 L933.5,864.2 L935.0,864.4 L936.5,865.0 L938.0,865.2 L939.5,865.0 L941.0,864.7 L942.5,864.7 L944.0,864.9 L945.5,864.7 L947.0,864.5 L948.5,864.5 L950.0,864.7 L951.5,865.2 L953.0,865.1 L954.5,864.7 L956.0,865.1 L957.5,865.2 L959.0,865.4 L960.5,865.5 L962.0,865.2 L963.5,865.3 L965.0,865.5 L966.5,865.3 L968.0,865.2 L969.5,865.4 L971.0,865.3 L972.5,865.2 L974.0,865.8 L975.5,865.4 L977.0,864.5 L978.5,864.8 L980.0,865.7 L981.5,865.3 L983.0,863.6 L984.5,861.6 L986.0,860.3 L987.5,858.8 L989.0,856.3 L990.5,853.6 L992.0,851.7 L993.5,850.8 L995.0,850.6 L996.5,851.3 L998.0,853.2 L999.5,855.5 L1001.0,857.6 L1002.5,859.3 L1004.0,861.2 L1005.5,863.4 L1007.0,864.9 L1008.5,865.0 L1010.0,864.8 L1011.5,865.5 L1013.0,866.5 L1014.5,867.2 L1016.0,867.1 L1017.5,867.0 L1019.0,867.2 L1020.5,867.0 L1022.0,866.3 L1023.5,865.9 L1025.0,866.1 L1026.5,866.3 L1028.0,866.6 L1029.5,866.6 L1031.0,866.5 L1032.5,866.6 L1034.0,867.0 L1035.5,867.4 L1037.0,867.6 L1038.5,868.0 L1040.0,867.7 L1041.5,866.7 L1043.0,866.5 L1044.5,865.5 L1046.0,863.5 L1047.5,861.2 L1049.0,857.8 L1050.5,852.8 L1052.0,846.9 L1053.5,841.1 L1055.0,836.1 L1056.5,832.2 L1058.0,830.8 L1059.5,832.1 L1061.0,835.8 L1062.5,841.0 L1064.0,846.9 L1065.5,853.3 L1067.0,858.5 L1068.5,862.1 L1070.0,864.6 L1071.5,866.2 L1073.0,867.4 L1074.5,867.6 L1076.0,867.8 L1077.5,868.4 L1079.0,868.6 L1080.5,868.1 L1082.0,867.7 L1083.5,867.6 L1085.0,867.4 L1086.5,867.7 L1088.0,868.4 L1089.5,868.8 L1091.0,868.5 L1092.5,868.1 L1094.0,868.0 L1095.5,868.0 L1097.0,868.3 L1098.5,868.5 L1100.0,868.2 L1101.5,868.0 L1103.0,868.0 L1104.5,868.3 L1106.0,868.4 L1107.5,868.1 L1109.0,868.2 L1110.5,868.6 L1112.0,869.0 L1113.5,869.0 L1115.0,868.5 L1116.5,867.9 L1118.0,867.9 L1119.5,868.8 L1121.0,869.2 L1122.5,869.2 L1124.0,869.0 L1125.5,868.5 L1127.0,868.6 L1128.5,868.8 L1130.0,868.5 L1131.5,868.6 L1133.0,868.7 L1134.5,868.9 L1136.0,868.9 L1137.5,868.4 L1139.0,867.8 L1140.5,867.4 L1142.0,867.6 L1143.5,868.0 L1145.0,868.2 L1146.5,868.3 L1148.0,868.4 L1149.5,867.9 L1151.0,867.6 L1152.5,868.2 L1154.0,868.4 L1155.5,867.9 L1157.0,868.2 L1158.5,869.0 L1160.0,869.2 L1161.5,869.0 L1163.0,868.8 L1164.5,868.4 L1166.0,868.3 L1167.5,868.4 L1169.0,868.3 L1170.5,868.1 L1172.0,868.2 L1173.5,868.4 L1175.0,868.4 L1176.5,868.6 L1178.0,868.8 L1179.5,868.3 L1181.0,868.1 L1182.5,868.4 L1184.0,868.0 L1185.5,867.9 L1187.0,867.7 L1188.5,867.1 L1190.0,867.4 L1191.5,867.8 L1193.0,868.1 L1194.5,868.5 L1196.0,868.8 L1197.5,869.1 L1199.0,869.2 L1200.5,868.8 L1202.0,868.5 L1203.5,868.4 L1205.0,868.0 L1206.5,868.2 L1208.0,868.8 L1209.5,868.4 L1211.0,867.7 L1212.5,867.9 L1214.0,868.5 L1215.5,868.7 L1217.0,868.3 L1218.5,867.5 L1220.0,867.3 L1221.5,867.6 L1223.0,867.7 L1224.5,867.9 L1226.0,868.2 L1227.5,868.2 L1229.0,868.2 L1230.5,868.4 L1232.0,868.5 L1233.5,868.1 L1235.0,867.9 L1236.5,868.3 L1238.0,868.4 L1239.5,868.3 L1241.0,867.9 L1242.5,867.6 L1244.0,867.8 L1245.5,867.7 L1247.0,867.7 L1248.5,868.2 L1250.0,868.2 L1251.5,868.2 L1253.0,868.7 L1254.5,868.4 L1256.0,867.5 L1257.5,867.5 L1259.0,868.0 L1260.5,867.3 L1262.0,866.7 L1263.5,867.5 L1265.0,868.2 L1266.5,868.3 L1268.0,868.1 L1269.5,867.9 L1271.0,867.9 L1272.5,867.9 L1274.0,867.8 L1275.5,868.0 L1277.0,867.9 L1278.5,867.8 L1280.0,868.2 L1281.5,868.5 L1283.0,867.8 L1284.5,867.1 L1286.0,867.4 L1287.5,867.7 L1289.0,867.6 L1290.5,867.6 L1292.0,867.6 L1293.5,868.1 L1295.0,868.1 L1296.5,868.0 L1298.0,868.3 L1299.5,868.3 L1301.0,867.8 L1302.5,867.5 L1304.0,868.0 L1305.5,868.6 L1307.0,868.2 L1308.5,867.8 L1310.0,868.3 L1311.5,868.7 L1313.0,868.3 L1314.5,867.5 L1316.0,867.0 L1317.5,867.1 L1319.0,867.4 L1320.5,867.9 L1322.0,867.9 L1323.5,867.3 L1325.0,867.0 L1326.5,867.1 L1328.0,867.4 L1329.5,867.7 L1331.0,867.6 L1332.5,867.8 L1334.0,867.9 L1335.5,867.7 L1337.0,867.9 L1338.5,867.7 L1340.0,867.2 L1341.5,867.2 L1343.0,867.7 L1344.5,867.7 L1346.0,867.3 L1347.5,867.5 L1349.0,867.6 L1350.5,867.4 L1352.0,867.5 L1353.5,867.6 L1355.0,867.8 L1356.5,867.8 L1358.0,867.8 L1359.5,868.3 L1361.0,868.2 L1362.5,867.3 L1364.0,866.9 L1365.5,867.2 L1367.0,867.6 L1368.5,868.0 L1370.0,868.4 L1371.5,868.4 L1373.0,868.1 L1374.5,867.8 L1376.0,867.6 L1377.5,867.7 L1379.0,868.1 L1380.5,867.8 L1382.0,867.5 L1383.5,867.5 L1385.0,867.8 L1386.5,867.9 L1388.0,867.5 L1389.5,867.2 L1391.0,867.4 L1392.5,867.3 L1394.0,867.4 L1395.5,867.7 L1397.0,867.3 L1398.5,867.1 L1400.0,867.9 L1401.5,868.5 L1403.0,868.9 L1404.5,868.7 L1406.0,867.6 L1407.5,867.3 L1409.0,867.7 L1410.5,867.9 L1412.0,867.5 L1413.5,867.6 L1415.0,867.7 L1416.5,867.5 L1418.0,867.7 L1419.5,867.9 L1421.0,867.8 L1422.5,867.7 L1424.0,867.3 L1425.5,866.8 L1427.0,867.0 L1428.5,867.3 L1430.0,867.3 L1431.5,867.5 L1433.0,867.6 L1434.5,867.6 L1436.0,867.3 L1437.5,867.0 L1439.0,866.7 L1440.5,866.3 L1442.0,866.0 L1443.5,865.4 L1445.0,864.1 L1446.5,862.9 L1448.0,861.8 L1449.5,861.2 L1451.0,861.0 L1452.5,860.8 L1454.0,860.7 L1455.5,860.7 L1457.0,861.1 L1458.5,862.1 L1460.0,863.2 L1461.5,864.1 L1463.0,865.0 L1464.5,866.0 L1466.0,866.8 L1467.5,867.0 L1469.0,867.0 L1470.5,866.9 L1472.0,866.7 L1473.5,866.4 L1475.0,866.7 L1476.5,866.8 L1478.0,866.7 L1479.5,867.1 L1481.0,867.1 L1482.5,866.8 L1484.0,867.0 L1485.5,867.5 L1487.0,867.5 L1488.5,867.7 L1490.0,868.3 L1491.5,868.2 L1493.0,867.4 L1494.5,867.2 L1496.0,866.9 L1497.5,866.6 L1499.0,867.0 L1500.5,867.5 L1502.0,867.3 L1503.5,867.3 L1505.0,867.8 L1506.5,867.7 L1508.0,867.7 L1509.5,868.1 L1511.0,867.7 L1512.5,867.0 L1514.0,866.8 L1515.5,867.0 L1517.0,867.5 L1518.5,867.9 L1520.0,867.8 L1521.5,867.3 L1523.0,867.1 L1524.5,867.5 L1526.0,867.4 L1527.5,866.8 L1529.0,866.8 L1530.5,867.3 L1532.0,867.6 L1533.5,867.5 L1535.0,867.4 L1536.5,867.5 L1538.0,867.0 L1539.5,867.2 L1541.0,868.0 L1542.5,867.7 L1544.0,867.2 L1545.5,867.6 L1547.0,868.0 L1548.5,867.6 L1550.0,867.4 L1551.5,867.4 L1553.0,867.0 L1554.5,866.8 L1556.0,866.8 L1557.5,866.9 L1559.0,867.1 L1560.5,867.1 L1562.0,866.9 L1563.5,867.3 L1565.0,867.7 L1566.5,867.6 L1568.0,867.5 L1569.5,867.3 L1571.0,867.0 L1572.5,867.0 L1574.0,867.2 L1575.5,867.7 L1577.0,868.3 L1578.5,868.0 L1580.0,867.2 L1581.5,866.8 L1583.0,866.3 L1584.5,866.4 L1586.0,867.3 L1587.5,867.3 L1589.0,866.6 L1590.5,867.2 L1592.0,868.1 L1593.5,867.8 L1595.0,867.5 L1596.5,867.2 L1598.0,866.7 L1599.5,866.5 L1601.0,866.7 L1602.5,867.0 L1604.0,867.2 L1605.5,867.7 L1607.0,868.0 L1608.5,867.8 L1610.0,867.5 L1611.5,866.9 L1613.0,867.0 L1614.5,867.8 L1616.0,868.0 L1617.5,867.6 L1619.0,866.9 L1620.5,866.7 L1622.0,866.9 L1623.5,866.6 L1625.0,866.6 L1626.5,866.9 L1628.0,867.2 L1629.5,867.6 L1631.0,867.2 L1632.5,866.7 L1634.0,866.7 L1635.5,866.7 L1637.0,866.9 L1638.5,866.9 L1640.0,866.5 L1641.5,866.5 L1643.0,866.5 L1644.5,867.0 L1646.0,867.6 L1647.5,867.5 L1649.0,867.4 L1650.5,867.6 L1652.0,867.8 L1653.5,868.0 L1655.0,867.5 L1656.5,866.9 L1658.0,866.7 L1659.5,866.7 L1661.0,866.8 L1662.5,867.1 L1664.0,867.4 L1665.5,867.5 L1667.0,867.3 L1668.5,867.1 L1670.0,866.8 L1671.5,866.3 L1673.0,865.9 L1674.5,866.2 L1676.0,867.2 L1677.5,867.6 L1679.0,867.0 L1680.5,866.7 L1682.0,866.6 L1683.5,866.4 L1685.0,866.8 L1686.5,866.8 L1688.0,866.1 L1689.5,865.9 L1691.0,866.3 L1692.5,866.6 L1694.0,866.9 L1695.5,867.1 L1697.0,867.1 L1698.5,867.2 L1700.0,867.6 L1701.5,867.8 L1703.0,867.7 L1704.5,867.1 L1706.0,866.4 L1707.5,866.2 L1709.0,866.6 L1710.5,866.9 L1712.0,867.3 L1713.5,867.7 L1715.0,867.5 L1716.5,867.2 L1718.0,866.9 L1719.5,866.8 L1721.0,867.3 L1722.5,867.6 L1724.0,867.3 L1725.5,866.8 L1727.0,866.8 L1728.5,867.2 L1730.0,867.2 L1731.5,866.9 L1733.0,867.2 L1734.5,867.5 L1736.0,867.0 L1737.5,866.9 L1739.0,867.4 L1740.5,867.6 L1742.0,867.6 L1743.5,867.7 L1745.0,867.5 L1746.5,866.8 L1748.0,866.3 L1749.5,866.7 L1751.0,867.0 L1752.5,867.0 L1754.0,867.1 L1755.5,867.2 L1757.0,866.8 L1758.5,866.4 L1760.0,865.6 L1761.5,864.1 L1763.0,862.5 L1764.5,860.7 L1766.0,859.3 L1767.5,858.6 L1769.0,857.7 L1770.5,857.7 L1772.0,859.1 L1773.5,861.0 L1775.0,862.6 L1776.5,863.9 L1778.0,864.6 L1779.5,865.3 L1781.0,866.6 L1782.5,867.4 L1784.0,866.6 L1785.5,866.3 L1787.0,866.9 L1788.5,866.4 L1790.0,865.4 L1791.5,865.8 L1793.0,866.2 L1794.5,866.7 L1796.0,867.7 L1797.5,867.7 L1799.0,867.2 L1800.5,867.3 L1802.0,867.4 L1803.5,867.1 L1805.0,867.0 L1806.5,867.1 L1808.0,867.3 L1809.5,867.1 L1811.0,867.0 L1812.5,867.4 L1814.0,867.8 L1815.5,867.7 L1817.0,867.3 L1818.5,866.9 L1820.0,867.0 L1821.5,867.2 L1823.0,867.0 L1824.5,867.1 L1826.0,867.6 L1827.5,867.5 L1829.0,867.3 L1830.5,867.2 L1832.0,867.3 L1833.5,867.3 L1835.0,866.7 L1836.5,866.5 L1838.0,867.0 L1839.5,867.2 L1841.0,867.6 L1842.5,868.0 L1844.0,868.4 L1845.5,868.1 L1847.0,867.6 L1848.5,867.2 L1850.0,866.7 L1851.5,866.8 L1853.0,866.9 L1854.5,866.6 L1856.0,865.9 L1857.5,866.0 L1859.0,866.9 L1860.5,867.1 L1862.0,866.8 L1863.5,866.8 L1865.0,866.7 L1866.5,866.8 L1868.0,867.1 L1869.5,867.2 L1871.0,867.1 L1872.5,866.5 L1874.0,866.1 L1875.5,866.4 L1877.0,866.6 L1878.5,866.5 L1880.0,866.6 L1881.5,866.9 L1883.0,867.4 L1884.5,867.7 L1886.0,867.4 L1887.5,867.0 L1889.0,867.2 L1890.5,867.6 L1892.0,867.3 L1893.5,866.9 L1895.0,866.9 L1896.5,867.2 L1898.0,867.4 L1899.5,867.4 L1901.0,867.5 L1902.5,867.7 L1904.0,867.1 L1905.5,866.6 L1907.0,866.9 L1908.5,867.4 L1910.0,867.5 L1911.5,867.0 L1913.0,866.7 L1914.5,866.7 L1916.0,866.4 L1917.5,866.3 L1919.0,867.1 L1920.5,867.4 L1922.0,866.8 L1923.5,866.5 L1925.0,866.6 L1926.5,866.8 L1928.0,867.0 L1929.5,867.0 L1931.0,866.9 L1932.5,866.4 L1934.0,866.0 L1935.5,865.9 L1937.0,866.3 L1938.5,867.0 L1940.0,867.4 L1941.5,867.2 L1943.0,866.7 L1944.5,866.4 L1946.0,866.8 L1947.5,867.0 L1949.0,867.7 L1950.5,868.1 L1952.0,867.6 L1953.5,867.3 L1955.0,867.1 L1956.5,866.4 L1958.0,866.2 L1959.5,866.6 L1961.0,867.1 L1962.5,867.3 L1964.0,867.4 L1965.5,867.3 L1967.0,866.7 L1968.5,866.3 L1970.0,866.5 L1971.5,866.3 L1973.0,865.8 L1974.5,865.6 L1976.0,864.7 L1977.5,863.6 L1979.0,862.8 L1980.5,861.7 L1982.0,861.1 L1983.5,860.7 L1985.0,860.2 L1986.5,860.1 L1988.0,860.4 L1989.5,861.2 L1991.0,862.8 L1992.5,864.3 L1994.0,865.2 L1995.5,865.9 L1997.0,866.7 L1998.5,866.9 L2000.0,866.5 L2001.5,866.8 L2003.0,867.3 L2004.5,866.9 L2006.0,866.8 L2007.5,867.1 L2009.0,867.3 L2010.5,867.4 L2012.0,867.2 L2013.5,867.6 L2015.0,868.2 L2016.5,867.7 L2018.0,866.6 L2019.5,866.2 L2021.0,866.5 L2022.5,866.6 L2024.0,866.6 L2025.5,867.3 L2027.0,868.0 L2028.5,867.8 L2030.0,867.0 L2031.5,866.7 L2033.0,866.7 L2034.5,867.0 L2036.0,867.4 L2037.5,866.9 L2039.0,866.6 L2040.5,867.0 L2042.0,867.5 L2043.5,867.9 L2045.0,867.8 L2046.5,866.8 L2048.0,866.4 L2049.5,867.0 L2051.0,867.7 L2052.5,867.5 L2054.0,866.6 L2055.5,866.6 L2057.0,867.6 L2058.5,868.1 L2060.0,867.8 L2061.5,867.5 L2063.0,867.4 L2064.5,866.8 L2066.0,866.4 L2067.5,866.8 L2069.0,867.2 L2070.5,867.5 L2072.0,867.2 L2073.5,866.6 L2075.0,866.9 L2076.5,867.0 L2078.0,866.6 L2079.5,866.7 L2081.0,867.0 L2082.5,867.0 L2084.0,866.6 L2085.5,866.4 L2087.0,866.5 L2088.5,866.8 L2090.0,866.8 L2091.5,866.8 L2093.0,867.1 L2094.5,866.8 L2096.0,866.7 L2097.5,867.3 L2099.0,867.6 L2100.5,867.1 L2102.0,866.9 L2103.5,867.1 L2105.0,866.6 L2106.5,866.2 L2108.0,866.9 L2109.5,867.5 L2111.0,867.2 L2112.5,867.3 L2114.0,867.6 L2115.5,867.2 L2117.0,866.9 L2118.5,867.0 L2120.0,867.1 L2121.5,867.0 L2123.0,867.1 L2124.5,867.2 L2126.0,867.1 L2127.5,867.3 L2129.0,867.2 L2130.5,866.9 L2132.0,866.9 L2133.5,867.0 L2135.0,866.9 L2136.5,866.7 L2138.0,866.6 L2139.5,866.9 L2141.0,867.3 L2142.5,867.1 L2144.0,866.8 L2145.5,866.9 L2147.0,866.8 L2148.5,866.3 L2150.0,866.0 L2151.5,865.6 L2153.0,865.0 L2154.5,864.5 L2156.0,863.4 L2157.5,862.4 L2159.0,862.1 L2160.5,861.8 L2162.0,861.9 L2163.5,862.2 L2165.0,862.3 L2166.5,862.6 L2168.0,863.4 L2169.5,864.1 L2171.0,864.4 L2172.5,865.0 L2174.0,866.1 L2175.5,866.8 L2177.0,866.9 L2178.5,866.8 L2180.0,866.7 L2181.5,866.8 L2183.0,866.7 L2184.5,866.5 L2186.0,866.7 L2187.5,866.4 L2189.0,865.9 L2190.5,866.3 L2192.0,866.7 L2193.5,866.4 L2195.0,865.7 L2196.5,864.6 L2198.0,863.9 L2199.5,863.2 L2201.0,862.3 L2202.5,862.1 L2204.0,862.1 L2205.5,861.9 L2207.0,862.6 L2208.5,863.8 L2210.0,864.1 L2211.5,864.5 L2213.0,865.5 L2214.5,866.2 L2216.0,866.2 L2217.5,866.2 L2219.0,866.6" fill="none" stroke="#ebaa58" stroke-width="7.8" stroke-linejoin="round"/><path d="M137.0,691.3 L138.5,691.2 L140.0,691.6 L141.5,692.1 L143.0,692.3 L144.5,692.0 L146.0,691.7 L147.5,691.8 L149.0,692.4 L150.5,692.7 L152.0,692.3 L153.5,691.7 L155.0,692.0 L156.5,692.6 L158.0,692.3 L159.5,691.8 L161.0,691.9 L162.5,692.0 L164.0,692.0 L165.5,692.0 L167.0,691.8 L168.5,691.7 L170.0,691.2 L171.5,690.7 L173.0,690.6 L174.5,690.2 L176.0,689.3 L177.5,688.9 L179.0,688.6 L180.5,688.2 L182.0,687.8 L183.5,687.7 L185.0,687.4 L186.5,686.9 L188.0,686.3 L189.5,685.9 L191.0,685.4 L192.5,685.1 L194.0,684.9 L195.5,684.7 L197.0,684.8 L198.5,684.2 L200.0,683.3 L201.5,683.1 L203.0,682.9 L204.5,682.7 L206.0,682.3 L207.5,681.6 L209.0,681.6 L210.5,681.7 L212.0,681.5 L213.5,681.0 L215.0,680.7 L216.5,680.2 L218.0,679.8 L219.5,679.8 L221.0,680.0 L222.5,680.0 L224.0,679.9 L225.5,679.4 L227.0,678.9 L228.5,678.4 L230.0,677.8 L231.5,677.6 L233.0,677.6 L234.5,677.1 L236.0,676.7 L237.5,676.5 L239.0,676.2 L240.5,675.7 L242.0,675.4 L243.5,675.3 L245.0,674.9 L246.5,674.5 L248.0,674.3 L249.5,673.8 L251.0,673.5 L252.5,673.8 L254.0,674.2 L255.5,674.1 L257.0,673.7 L258.5,673.8 L260.0,674.0 L261.5,673.8 L263.0,673.8 L264.5,674.0 L266.0,673.9 L267.5,673.9 L269.0,674.1 L270.5,674.1 L272.0,674.3 L273.5,674.5 L275.0,674.1 L276.5,673.5 L278.0,673.4 L279.5,674.1 L281.0,674.8 L282.5,675.2 L284.0,675.4 L285.5,675.7 L287.0,676.0 L288.5,676.5 L290.0,677.0 L291.5,677.4 L293.0,678.1 L294.5,678.9 L296.0,678.8 L297.5,679.0 L299.0,680.0 L300.5,680.4 L302.0,680.5 L303.5,681.3 L305.0,681.7 L306.5,681.9 L308.0,682.2 L309.5,682.7 L311.0,683.7 L312.5,684.4 L314.0,684.8 L315.5,685.5 L317.0,686.1 L318.5,686.1 L320.0,686.5 L321.5,686.9 L323.0,687.0 L324.5,687.3 L326.0,687.9 L327.5,688.3 L329.0,688.4 L330.5,688.8 L332.0,689.3 L333.5,689.6 L335.0,689.9 L336.5,690.2 L338.0,690.6 L339.5,691.1 L341.0,691.1 L342.5,691.1 L344.0,691.2 L345.5,691.2 L347.0,691.5 L348.5,692.2 L350.0,692.7 L351.5,693.0 L353.0,692.7 L354.5,692.8 L356.0,693.8 L357.5,693.9 L359.0,693.4 L360.5,693.6 L362.0,693.3 L363.5,692.7 L365.0,692.8 L366.5,693.3 L368.0,693.5 L369.5,693.1 L371.0,692.9 L372.5,693.0 L374.0,692.8 L375.5,692.8 L377.0,693.1 L378.5,693.5 L380.0,693.2 L381.5,692.6 L383.0,692.5 L384.5,692.7 L386.0,692.6 L387.5,692.3 L389.0,692.5 L390.5,693.3 L392.0,693.2 L393.5,692.8 L395.0,693.1 L396.5,692.9 L398.0,692.1 L399.5,692.1 L401.0,692.5 L402.5,692.7 L404.0,692.6 L405.5,692.5 L407.0,692.8 L408.5,693.4 L410.0,693.3 L411.5,692.3 L413.0,692.2 L414.5,692.5 L416.0,691.9 L417.5,691.4 L419.0,691.5 L420.5,691.7 L422.0,691.7 L423.5,691.2 L425.0,690.8 L426.5,690.8 L428.0,691.1 L429.5,691.1 L431.0,690.4 L432.5,689.6 L434.0,689.7 L435.5,690.1 L437.0,689.5 L438.5,688.8 L440.0,688.9 L441.5,689.4 L443.0,689.3 L444.5,689.0 L446.0,689.0 L447.5,689.0 L449.0,688.5 L450.5,688.6 L452.0,689.2 L453.5,689.2 L455.0,688.8 L456.5,688.5 L458.0,688.3 L459.5,688.0 L461.0,687.6 L462.5,687.4 L464.0,687.4 L465.5,687.8 L467.0,688.1 L468.5,687.7 L470.0,687.6 L471.5,687.5 L473.0,687.2 L474.5,686.7 L476.0,686.2 L477.5,686.4 L479.0,686.3 L480.5,685.7 L482.0,686.0 L483.5,686.7 L485.0,686.6 L486.5,686.4 L488.0,686.5 L489.5,686.8 L491.0,687.2 L492.5,687.3 L494.0,687.0 L495.5,687.0 L497.0,687.4 L498.5,687.9 L500.0,688.0 L501.5,688.0 L503.0,687.8 L504.5,687.6 L506.0,688.0 L507.5,688.5 L509.0,688.6 L510.5,688.3 L512.0,688.3 L513.5,688.8 L515.0,689.1 L516.5,689.2 L518.0,689.4 L519.5,689.8 L521.0,690.1 L522.5,690.5 L524.0,690.8 L525.5,691.0 L527.0,690.9 L528.5,690.7 L530.0,690.8 L531.5,691.0 L533.0,691.0 L534.5,691.3 L536.0,691.3 L537.5,690.7 L539.0,690.7 L540.5,691.3 L542.0,691.5 L543.5,691.3 L545.0,691.3 L546.5,691.8 L548.0,691.9 L549.5,691.5 L551.0,691.4 L552.5,691.6 L554.0,691.6 L555.5,691.4 L557.0,691.6 L558.5,692.0 L560.0,692.1 L561.5,691.9 L563.0,691.7 L564.5,691.4 L566.0,691.8 L567.5,692.1 L569.0,692.1 L570.5,692.1 L572.0,692.1 L573.5,692.3 L575.0,692.1 L576.5,691.9 L578.0,692.0 L579.5,692.4 L581.0,692.6 L582.5,692.1 L584.0,692.1 L585.5,692.4 L587.0,692.5 L588.5,692.7 L590.0,692.6 L591.5,692.2 L593.0,692.4 L594.5,692.8 L596.0,692.9 L597.5,692.9 L599.0,693.2 L600.5,693.4 L602.0,692.8 L603.5,692.2 L605.0,692.0 L606.5,692.1 L608.0,692.3 L609.5,692.3 L611.0,692.4 L612.5,692.4 L614.0,692.0 L615.5,692.4 L617.0,693.5 L618.5,693.6 L620.0,693.3 L621.5,693.5 L623.0,693.7 L624.5,693.4 L626.0,693.0 L627.5,692.7 L629.0,692.8 L630.5,692.8 L632.0,692.7 L633.5,692.8 L635.0,693.0 L636.5,693.2 L638.0,693.2 L639.5,692.9 L641.0,693.3 L642.5,693.8 L644.0,693.7 L645.5,693.8 L647.0,694.0 L648.5,693.9 L650.0,693.4 L651.5,692.8 L653.0,692.8 L654.5,692.7 L656.0,692.5 L657.5,692.5 L659.0,692.3 L660.5,692.3 L662.0,692.7 L663.5,692.8 L665.0,692.5 L666.5,692.3 L668.0,692.4 L669.5,692.5 L671.0,692.5 L672.5,692.5 L674.0,692.5 L675.5,692.7 L677.0,692.8 L678.5,692.6 L680.0,692.2 L681.5,692.2 L683.0,692.4 L684.5,692.4 L686.0,691.9 L687.5,691.1 L689.0,691.1 L690.5,692.0 L692.0,692.5 L693.5,692.7 L695.0,692.6 L696.5,692.2 L698.0,691.8 L699.5,691.7 L701.0,691.9 L702.5,691.9 L704.0,692.0 L705.5,692.0 L707.0,692.1 L708.5,692.0 L710.0,691.7 L711.5,691.4 L713.0,691.3 L714.5,691.6 L716.0,692.0 L717.5,691.9 L719.0,691.9 L720.5,692.0 L722.0,691.9 L723.5,691.6 L725.0,691.2 L726.5,691.5 L728.0,691.7 L729.5,691.3 L731.0,691.0 L732.5,691.0 L734.0,691.0 L735.5,691.1 L737.0,691.3 L738.5,690.9 L740.0,690.7 L741.5,691.4 L743.0,691.6 L744.5,691.3 L746.0,691.0 L747.5,690.7 L749.0,690.7 L750.5,690.9 L752.0,690.9 L753.5,690.4 L755.0,689.6 L756.5,688.5 L758.0,687.7 L759.5,687.0 L761.0,686.1 L762.5,684.8 L764.0,684.5 L765.5,685.1 L767.0,685.9 L768.5,686.5 L770.0,687.0 L771.5,687.9 L773.0,688.9 L774.5,689.3 L776.0,689.6 L777.5,690.2 L779.0,690.4 L780.5,690.1 L782.0,689.8 L783.5,690.1 L785.0,690.2 L786.5,689.8 L788.0,689.9 L789.5,690.1 L791.0,689.9 L792.5,690.0 L794.0,690.1 L795.5,690.2 L797.0,690.2 L798.5,690.2 L800.0,690.5 L801.5,690.4 L803.0,690.0 L804.5,689.4 L806.0,689.4 L807.5,689.9 L809.0,689.9 L810.5,689.7 L812.0,689.5 L813.5,689.3 L815.0,689.1 L816.5,689.1 L818.0,689.2 L819.5,689.1 L821.0,689.0 L822.5,689.4 L824.0,689.6 L825.5,689.1 L827.0,689.0 L828.5,689.3 L830.0,689.4 L831.5,689.6 L833.0,689.4 L834.5,689.1 L836.0,689.4 L837.5,689.6 L839.0,689.5 L840.5,689.2 L842.0,688.8 L843.5,688.3 L845.0,688.6 L846.5,689.2 L848.0,689.3 L849.5,689.1 L851.0,688.9 L852.5,688.7 L854.0,688.6 L855.5,688.5 L857.0,688.5 L858.5,688.4 L860.0,688.5 L861.5,688.6 L863.0,688.6 L864.5,688.7 L866.0,688.8 L867.5,688.8 L869.0,688.7 L870.5,687.9 L872.0,687.8 L873.5,688.5 L875.0,689.0 L876.5,689.2 L878.0,689.0 L879.5,688.5 L881.0,688.2 L882.5,688.4 L884.0,688.4 L885.5,687.8 L887.0,687.7 L888.5,688.0 L890.0,687.7 L891.5,687.3 L893.0,687.7 L894.5,688.1 L896.0,688.0 L897.5,688.1 L899.0,687.9 L900.5,687.5 L902.0,687.3 L903.5,686.4 L905.0,685.0 L906.5,683.4 L908.0,680.6 L909.5,676.2 L911.0,671.6 L912.5,668.1 L914.0,665.8 L915.5,664.2 L917.0,664.1 L918.5,666.1 L920.0,669.3 L921.5,673.4 L923.0,678.0 L924.5,681.5 L926.0,683.7 L927.5,685.5 L929.0,687.0 L930.5,688.0 L932.0,688.7 L933.5,689.2 L935.0,689.4 L936.5,689.5 L938.0,689.2 L939.5,688.6 L941.0,688.7 L942.5,689.2 L944.0,689.2 L945.5,688.7 L947.0,688.1 L948.5,688.3 L950.0,689.0 L951.5,689.2 L953.0,689.0 L954.5,688.7 L956.0,688.6 L957.5,689.2 L959.0,689.8 L960.5,689.9 L962.0,689.5 L963.5,689.1 L965.0,689.1 L966.5,689.8 L968.0,690.0 L969.5,689.5 L971.0,689.4 L972.5,689.5 L974.0,689.0 L975.5,688.6 L977.0,689.2 L978.5,689.5 L980.0,689.1 L981.5,688.7 L983.0,688.8 L984.5,689.7 L986.0,690.1 L987.5,689.8 L989.0,689.6 L990.5,689.6 L992.0,689.7 L993.5,689.7 L995.0,689.8 L996.5,689.9 L998.0,690.2 L999.5,690.3 L1001.0,689.9 L1002.5,689.8 L1004.0,689.8 L1005.5,689.3 L1007.0,689.4 L1008.5,689.9 L1010.0,689.9 L1011.5,690.0 L1013.0,690.2 L1014.5,690.1 L1016.0,690.2 L1017.5,690.5 L1019.0,690.8 L1020.5,690.8 L1022.0,690.6 L1023.5,690.7 L1025.0,690.7 L1026.5,690.6 L1028.0,690.7 L1029.5,690.7 L1031.0,690.5 L1032.5,690.8 L1034.0,691.2 L1035.5,691.2 L1037.0,691.3 L1038.5,691.0 L1040.0,690.8 L1041.5,690.8 L1043.0,690.6 L1044.5,690.6 L1046.0,690.8 L1047.5,690.9 L1049.0,691.1 L1050.5,691.6 L1052.0,691.6 L1053.5,691.2 L1055.0,691.4 L1056.5,691.6 L1058.0,691.9 L1059.5,692.4 L1061.0,692.2 L1062.5,691.8 L1064.0,691.3 L1065.5,691.1 L1067.0,691.4 L1068.5,691.6 L1070.0,691.6 L1071.5,691.9 L1073.0,692.4 L1074.5,692.7 L1076.0,692.6 L1077.5,692.4 L1079.0,692.1 L1080.5,692.1 L1082.0,692.1 L1083.5,692.0 L1085.0,692.3 L1086.5,692.0 L1088.0,691.9 L1089.5,692.8 L1091.0,693.0 L1092.5,692.2 L1094.0,692.4 L1095.5,693.2 L1097.0,692.5 L1098.5,691.7 L1100.0,692.2 L1101.5,693.0 L1103.0,693.0 L1104.5,692.9 L1106.0,693.0 L1107.5,692.7 L1109.0,692.2 L1110.5,691.9 L1112.0,692.1 L1113.5,692.1 L1115.0,692.4 L1116.5,692.8 L1118.0,692.4 L1119.5,691.9 L1121.0,691.6 L1122.5,691.5 L1124.0,691.1 L1125.5,690.7 L1127.0,691.2 L1128.5,692.0 L1130.0,692.0 L1131.5,691.7 L1133.0,691.5 L1134.5,691.4 L1136.0,692.0 L1137.5,692.7 L1139.0,692.5 L1140.5,692.0 L1142.0,692.1 L1143.5,692.3 L1145.0,692.3 L1146.5,692.2 L1148.0,692.2 L1149.5,692.7 L1151.0,692.9 L1152.5,692.4 L1154.0,692.3 L1155.5,692.5 L1157.0,692.1 L1158.5,691.9 L1160.0,692.2 L1161.5,692.4 L1163.0,692.2 L1164.5,692.1 L1166.0,692.2 L1167.5,691.8 L1169.0,691.4 L1170.5,691.6 L1172.0,692.1 L1173.5,692.1 L1175.0,692.4 L1176.5,692.8 L1178.0,692.7 L1179.5,692.4 L1181.0,692.2 L1182.5,692.3 L1184.0,692.0 L1185.5,692.1 L1187.0,692.4 L1188.5,692.6 L1190.0,692.9 L1191.5,692.8 L1193.0,692.4 L1194.5,692.6 L1196.0,692.6 L1197.5,692.0 L1199.0,691.8 L1200.5,692.0 L1202.0,692.4 L1203.5,692.6 L1205.0,692.4 L1206.5,692.1 L1208.0,692.3 L1209.5,692.8 L1211.0,692.9 L1212.5,692.4 L1214.0,692.1 L1215.5,692.4 L1217.0,692.6 L1218.5,692.8 L1220.0,693.1 L1221.5,692.8 L1223.0,692.1 L1224.5,692.2 L1226.0,692.7 L1227.5,692.8 L1229.0,692.7 L1230.5,692.4 L1232.0,692.1 L1233.5,692.6 L1235.0,693.0 L1236.5,692.6 L1238.0,692.1 L1239.5,692.1 L1241.0,692.3 L1242.5,692.6 L1244.0,693.1 L1245.5,693.2 L1247.0,692.8 L1248.5,692.4 L1250.0,692.4 L1251.5,692.4 L1253.0,692.3 L1254.5,692.4 L1256.0,692.3 L1257.5,692.2 L1259.0,692.4 L1260.5,692.3 L1262.0,692.2 L1263.5,692.4 L1265.0,692.6 L1266.5,693.0 L1268.0,692.9 L1269.5,692.4 L1271.0,692.2 L1272.5,692.3 L1274.0,692.5 L1275.5,692.5 L1277.0,692.3 L1278.5,692.0 L1280.0,692.3 L1281.5,692.8 L1283.0,692.7 L1284.5,692.6 L1286.0,692.6 L1287.5,692.2 L1289.0,692.0 L1290.5,692.5 L1292.0,692.9 L1293.5,692.7 L1295.0,692.5 L1296.5,692.6 L1298.0,692.4 L1299.5,691.7 L1301.0,691.3 L1302.5,691.5 L1304.0,691.8 L1305.5,691.9 L1307.0,691.9 L1308.5,692.1 L1310.0,692.5 L1311.5,692.5 L1313.0,692.7 L1314.5,692.9 L1316.0,692.5 L1317.5,692.5 L1319.0,692.6 L1320.5,692.1 L1322.0,692.0 L1323.5,692.7 L1325.0,692.8 L1326.5,692.8 L1328.0,692.9 L1329.5,692.8 L1331.0,692.4 L1332.5,692.2 L1334.0,692.1 L1335.5,692.4 L1337.0,692.5 L1338.5,692.5 L1340.0,693.0 L1341.5,693.3 L1343.0,692.7 L1344.5,692.7 L1346.0,693.0 L1347.5,692.8 L1349.0,692.6 L1350.5,692.8 L1352.0,692.8 L1353.5,692.5 L1355.0,692.4 L1356.5,692.6 L1358.0,692.9 L1359.5,693.2 L1361.0,693.3 L1362.5,692.8 L1364.0,692.6 L1365.5,692.6 L1367.0,692.7 L1368.5,692.6 L1370.0,692.1 L1371.5,691.9 L1373.0,692.1 L1374.5,692.7 L1376.0,693.1 L1377.5,692.8 L1379.0,692.2 L1380.5,692.2 L1382.0,692.4 L1383.5,692.5 L1385.0,692.6 L1386.5,692.7 L1388.0,692.5 L1389.5,692.0 L1391.0,691.7 L1392.5,691.7 L1394.0,691.7 L1395.5,691.8 L1397.0,691.6 L1398.5,690.9 L1400.0,690.3 L1401.5,690.1 L1403.0,689.8 L1404.5,688.8 L1406.0,688.0 L1407.5,688.4 L1409.0,689.0 L1410.5,689.4 L1412.0,690.1 L1413.5,691.0 L1415.0,691.7 L1416.5,691.9 L1418.0,691.8 L1419.5,691.8 L1421.0,691.6 L1422.5,691.6 L1424.0,691.8 L1425.5,691.9 L1427.0,692.4 L1428.5,693.1 L1430.0,692.7 L1431.5,691.8 L1433.0,691.4 L1434.5,691.6 L1436.0,691.5 L1437.5,691.6 L1439.0,692.2 L1440.5,692.4 L1442.0,692.9 L1443.5,693.4 L1445.0,692.9 L1446.5,692.5 L1448.0,692.4 L1449.5,692.2 L1451.0,692.0 L1452.5,692.3 L1454.0,692.6 L1455.5,692.2 L1457.0,691.7 L1458.5,691.6 L1460.0,691.8 L1461.5,692.3 L1463.0,692.6 L1464.5,692.7 L1466.0,692.7 L1467.5,692.6 L1469.0,692.6 L1470.5,692.7 L1472.0,692.4 L1473.5,692.1 L1475.0,692.2 L1476.5,691.9 L1478.0,691.9 L1479.5,692.4 L1481.0,692.7 L1482.5,692.9 L1484.0,692.6 L1485.5,692.1 L1487.0,692.2 L1488.5,692.5 L1490.0,693.1 L1491.5,693.2 L1493.0,692.8 L1494.5,692.4 L1496.0,692.5 L1497.5,692.6 L1499.0,692.2 L1500.5,692.2 L1502.0,692.7 L1503.5,692.7 L1505.0,692.4 L1506.5,692.0 L1508.0,692.0 L1509.5,692.5 L1511.0,692.3 L1512.5,691.8 L1514.0,691.7 L1515.5,692.2 L1517.0,692.9 L1518.5,692.7 L1520.0,692.4 L1521.5,693.0 L1523.0,692.9 L1524.5,691.9 L1526.0,691.6 L1527.5,692.2 L1529.0,692.4 L1530.5,692.2 L1532.0,692.4 L1533.5,693.0 L1535.0,693.2 L1536.5,692.9 L1538.0,692.5 L1539.5,692.6 L1541.0,692.4 L1542.5,692.2 L1544.0,692.5 L1545.5,692.6 L1547.0,692.5 L1548.5,692.7 L1550.0,692.9 L1551.5,693.2 L1553.0,693.2 L1554.5,692.5 L1556.0,692.1 L1557.5,692.3 L1559.0,692.4 L1560.5,692.5 L1562.0,692.4 L1563.5,692.5 L1565.0,692.9 L1566.5,692.9 L1568.0,692.9 L1569.5,693.1 L1571.0,692.8 L1572.5,692.2 L1574.0,692.3 L1575.5,692.5 L1577.0,692.3 L1578.5,692.2 L1580.0,692.4 L1581.5,692.6 L1583.0,692.8 L1584.5,693.1 L1586.0,692.9 L1587.5,692.3 L1589.0,692.3 L1590.5,692.5 L1592.0,692.4 L1593.5,692.5 L1595.0,692.8 L1596.5,692.9 L1598.0,693.0 L1599.5,692.9 L1601.0,692.7 L1602.5,692.5 L1604.0,692.4 L1605.5,692.5 L1607.0,692.4 L1608.5,691.8 L1610.0,691.7 L1611.5,692.4 L1613.0,692.8 L1614.5,692.5 L1616.0,692.2 L1617.5,692.3 L1619.0,692.6 L1620.5,692.7 L1622.0,692.8 L1623.5,692.6 L1625.0,692.3 L1626.5,692.4 L1628.0,692.4 L1629.5,692.2 L1631.0,691.9 L1632.5,692.2 L1634.0,692.5 L1635.5,692.4 L1637.0,692.5 L1638.5,692.7 L1640.0,692.9 L1641.5,693.0 L1643.0,692.6 L1644.5,692.4 L1646.0,692.1 L1647.5,691.6 L1649.0,691.8 L1650.5,692.4 L1652.0,692.7 L1653.5,692.8 L1655.0,692.6 L1656.5,692.6 L1658.0,692.8 L1659.5,693.0 L1661.0,692.8 L1662.5,692.5 L1664.0,692.6 L1665.5,692.8 L1667.0,692.9 L1668.5,693.1 L1670.0,693.0 L1671.5,692.6 L1673.0,692.5 L1674.5,692.7 L1676.0,692.8 L1677.5,693.0 L1679.0,693.1 L1680.5,692.6 L1682.0,692.2 L1683.5,692.4 L1685.0,692.7 L1686.5,692.7 L1688.0,692.8 L1689.5,692.7 L1691.0,692.5 L1692.5,692.3 L1694.0,692.6 L1695.5,692.8 L1697.0,692.5 L1698.5,692.3 L1700.0,692.4 L1701.5,692.4 L1703.0,692.1 L1704.5,692.2 L1706.0,692.9 L1707.5,693.0 L1709.0,692.8 L1710.5,692.5 L1712.0,692.2 L1713.5,692.5 L1715.0,692.5 L1716.5,691.9 L1718.0,691.7 L1719.5,692.1 L1721.0,692.6 L1722.5,692.7 L1724.0,692.7 L1725.5,692.9 L1727.0,692.6 L1728.5,692.1 L1730.0,692.1 L1731.5,692.5 L1733.0,692.7 L1734.5,692.7 L1736.0,692.8 L1737.5,693.0 L1739.0,693.2 L1740.5,692.9 L1742.0,692.5 L1743.5,692.5 L1745.0,692.9 L1746.5,693.2 L1748.0,692.6 L1749.5,692.2 L1751.0,692.4 L1752.5,692.5 L1754.0,692.4 L1755.5,692.7 L1757.0,692.8 L1758.5,692.5 L1760.0,692.3 L1761.5,692.2 L1763.0,692.2 L1764.5,692.4 L1766.0,693.0 L1767.5,693.1 L1769.0,692.7 L1770.5,692.2 L1772.0,691.9 L1773.5,692.1 L1775.0,692.6 L1776.5,692.7 L1778.0,692.7 L1779.5,692.8 L1781.0,692.6 L1782.5,692.7 L1784.0,692.6 L1785.5,692.0 L1787.0,691.8 L1788.5,692.0 L1790.0,692.1 L1791.5,692.1 L1793.0,692.2 L1794.5,692.3 L1796.0,692.5 L1797.5,692.7 L1799.0,692.6 L1800.5,692.4 L1802.0,692.1 L1803.5,692.0 L1805.0,692.4 L1806.5,692.8 L1808.0,692.9 L1809.5,693.0 L1811.0,693.1 L1812.5,692.9 L1814.0,692.6 L1815.5,692.9 L1817.0,693.2 L1818.5,693.3 L1820.0,693.0 L1821.5,692.7 L1823.0,692.5 L1824.5,692.3 L1826.0,692.0 L1827.5,692.2 L1829.0,692.6 L1830.5,692.7 L1832.0,692.5 L1833.5,692.7 L1835.0,693.0 L1836.5,692.8 L1838.0,692.6 L1839.5,692.5 L1841.0,692.5 L1842.5,692.8 L1844.0,692.8 L1845.5,692.3 L1847.0,692.4 L1848.5,692.8 L1850.0,692.9 L1851.5,692.9 L1853.0,693.0 L1854.5,692.8 L1856.0,692.5 L1857.5,692.2 L1859.0,692.1 L1860.5,692.3 L1862.0,692.4 L1863.5,692.7 L1865.0,693.2 L1866.5,693.0 L1868.0,692.4 L1869.5,692.2 L1871.0,692.8 L1872.5,693.0 L1874.0,692.6 L1875.5,692.5 L1877.0,692.4 L1878.5,692.3 L1880.0,692.2 L1881.5,691.9 L1883.0,691.9 L1884.5,692.2 L1886.0,692.9 L1887.5,693.0 L1889.0,692.7 L1890.5,692.6 L1892.0,692.6 L1893.5,692.6 L1895.0,692.6 L1896.5,692.5 L1898.0,692.2 L1899.5,692.0 L1901.0,691.9 L1902.5,692.2 L1904.0,692.4 L1905.5,692.7 L1907.0,693.0 L1908.5,692.7 L1910.0,692.5 L1911.5,692.8 L1913.0,693.2 L1914.5,693.4 L1916.0,693.0 L1917.5,692.5 L1919.0,692.6 L1920.5,692.9 L1922.0,692.9 L1923.5,692.8 L1925.0,692.9 L1926.5,693.2 L1928.0,693.4 L1929.5,693.1 L1931.0,692.5 L1932.5,691.9 L1934.0,692.0 L1935.5,692.5 L1937.0,692.4 L1938.5,691.7 L1940.0,692.1 L1941.5,693.0 L1943.0,692.9 L1944.5,692.6 L1946.0,692.7 L1947.5,692.6 L1949.0,692.7 L1950.5,693.0 L1952.0,693.0 L1953.5,692.4 L1955.0,692.0 L1956.5,691.8 L1958.0,692.1 L1959.5,693.0 L1961.0,693.3 L1962.5,693.0 L1964.0,692.8 L1965.5,692.5 L1967.0,692.6 L1968.5,692.9 L1970.0,692.8 L1971.5,692.4 L1973.0,691.9 L1974.5,691.8 L1976.0,692.1 L1977.5,692.3 L1979.0,692.4 L1980.5,692.3 L1982.0,692.4 L1983.5,692.6 L1985.0,692.7 L1986.5,692.6 L1988.0,692.4 L1989.5,692.5 L1991.0,692.8 L1992.5,692.5 L1994.0,692.1 L1995.5,692.2 L1997.0,692.6 L1998.5,693.0 L2000.0,693.0 L2001.5,692.9 L2003.0,692.9 L2004.5,692.6 L2006.0,692.4 L2007.5,692.4 L2009.0,692.8 L2010.5,692.9 L2012.0,692.6 L2013.5,692.2 L2015.0,692.1 L2016.5,692.3 L2018.0,692.5 L2019.5,692.4 L2021.0,692.2 L2022.5,692.2 L2024.0,692.4 L2025.5,692.8 L2027.0,692.9 L2028.5,692.8 L2030.0,692.6 L2031.5,692.5 L2033.0,692.3 L2034.5,692.3 L2036.0,692.7 L2037.5,693.1 L2039.0,693.0 L2040.5,692.6 L2042.0,692.4 L2043.5,692.4 L2045.0,692.5 L2046.5,692.7 L2048.0,692.7 L2049.5,692.7 L2051.0,692.7 L2052.5,692.6 L2054.0,692.6 L2055.5,692.5 L2057.0,692.4 L2058.5,692.6 L2060.0,692.5 L2061.5,692.0 L2063.0,692.0 L2064.5,692.4 L2066.0,692.3 L2067.5,691.7 L2069.0,691.7 L2070.5,692.2 L2072.0,692.6 L2073.5,692.8 L2075.0,693.1 L2076.5,693.4 L2078.0,693.2 L2079.5,692.5 L2081.0,692.5 L2082.5,692.7 L2084.0,692.2 L2085.5,692.0 L2087.0,692.6 L2088.5,693.1 L2090.0,692.8 L2091.5,692.1 L2093.0,692.0 L2094.5,692.3 L2096.0,692.5 L2097.5,692.6 L2099.0,692.9 L2100.5,693.1 L2102.0,692.9 L2103.5,692.6 L2105.0,692.8 L2106.5,692.8 L2108.0,692.5 L2109.5,692.4 L2111.0,692.2 L2112.5,692.2 L2114.0,692.8 L2115.5,693.1 L2117.0,693.1 L2118.5,693.0 L2120.0,692.8 L2121.5,692.8 L2123.0,692.7 L2124.5,692.8 L2126.0,692.9 L2127.5,692.8 L2129.0,692.9 L2130.5,692.9 L2132.0,692.9 L2133.5,692.8 L2135.0,693.0 L2136.5,693.1 L2138.0,692.7 L2139.5,692.4 L2141.0,692.6 L2142.5,692.5 L2144.0,692.1 L2145.5,692.7 L2147.0,692.8 L2148.5,692.2 L2150.0,692.4 L2151.5,692.7 L2153.0,692.3 L2154.5,692.3 L2156.0,692.5 L2157.5,692.9 L2159.0,693.0 L2160.5,692.8 L2162.0,692.8 L2163.5,693.0 L2165.0,692.9 L2166.5,692.9 L2168.0,692.8 L2169.5,692.4 L2171.0,692.4 L2172.5,692.4 L2174.0,692.4 L2175.5,692.6 L2177.0,693.0 L2178.5,693.4 L2180.0,693.2 L2181.5,693.1 L2183.0,693.3 L2184.5,692.9 L2186.0,692.2 L2187.5,692.5 L2189.0,692.8 L2190.5,692.6 L2192.0,692.6 L2193.5,692.6 L2195.0,692.4 L2196.5,691.9 L2198.0,691.7 L2199.5,692.2 L2201.0,692.8 L2202.5,693.0 L2204.0,692.6 L2205.5,692.5 L2207.0,692.8 L2208.5,693.0 L2210.0,693.1 L2211.5,692.6 L2213.0,691.9 L2214.5,692.0 L2216.0,692.0 L2217.5,692.0 L2219.0,692.2" fill="none" stroke="#e07866" stroke-width="7.8" stroke-linejoin="round"/><path d="M137.0,548.5 L138.5,547.7 L140.0,546.0 L141.5,546.0 L143.0,546.8 L144.5,546.7 L146.0,546.2 L147.5,545.8 L149.0,545.1 L150.5,544.5 L152.0,543.2 L153.5,541.5 L155.0,540.5 L156.5,539.8 L158.0,538.9 L159.5,538.4 L161.0,537.8 L162.5,536.6 L164.0,535.0 L165.5,533.5 L167.0,531.1 L168.5,529.1 L170.0,527.9 L171.5,526.1 L173.0,523.6 L174.5,522.0 L176.0,520.9 L177.5,519.6 L179.0,518.4 L180.5,517.6 L182.0,516.3 L183.5,515.5 L185.0,514.6 L186.5,513.6 L188.0,512.6 L189.5,511.2 L191.0,509.9 L192.5,509.1 L194.0,507.8 L195.5,505.7 L197.0,503.9 L198.5,502.5 L200.0,500.2 L201.5,498.0 L203.0,496.6 L204.5,495.0 L206.0,492.4 L207.5,489.8 L209.0,487.0 L210.5,484.3 L212.0,482.7 L213.5,480.6 L215.0,477.8 L216.5,474.9 L218.0,472.1 L219.5,470.1 L221.0,469.0 L222.5,467.5 L224.0,465.5 L225.5,463.9 L227.0,462.3 L228.5,460.3 L230.0,457.7 L231.5,453.2 L233.0,448.2 L234.5,443.5 L236.0,442.0 L237.5,441.9 L239.0,441.7 L240.5,440.7 L242.0,440.0 L243.5,439.8 L245.0,439.8 L246.5,439.6 L248.0,439.4 L249.5,439.4 L251.0,439.1 L252.5,439.1 L254.0,440.5 L255.5,441.6 L257.0,441.9 L258.5,443.0 L260.0,444.5 L261.5,444.8 L263.0,445.4 L264.5,446.7 L266.0,448.0 L267.5,451.6 L269.0,455.4 L270.5,459.6 L272.0,463.3 L273.5,464.9 L275.0,466.5 L276.5,468.4 L278.0,469.6 L279.5,470.8 L281.0,474.7 L282.5,479.6 L284.0,483.3 L285.5,484.7 L287.0,486.1 L288.5,487.1 L290.0,488.5 L291.5,489.5 L293.0,490.0 L294.5,492.0 L296.0,495.0 L297.5,497.0 L299.0,499.1 L300.5,502.1 L302.0,503.4 L303.5,504.1 L305.0,506.1 L306.5,507.8 L308.0,508.2 L309.5,508.3 L311.0,508.6 L312.5,510.6 L314.0,513.7 L315.5,516.9 L317.0,519.7 L318.5,520.6 L320.0,521.7 L321.5,522.7 L323.0,522.8 L324.5,522.3 L326.0,522.7 L327.5,524.1 L329.0,525.1 L330.5,525.9 L332.0,526.7 L333.5,526.8 L335.0,526.7 L336.5,526.4 L338.0,525.6 L339.5,525.2 L341.0,525.4 L342.5,525.2 L344.0,524.7 L345.5,524.5 L347.0,524.1 L348.5,523.7 L350.0,523.9 L351.5,524.1 L353.0,524.2 L354.5,524.6 L356.0,525.2 L357.5,525.6 L359.0,526.4 L360.5,527.4 L362.0,527.2 L363.5,527.8 L365.0,529.0 L366.5,528.9 L368.0,529.3 L369.5,529.7 L371.0,528.8 L372.5,527.9 L374.0,527.7 L375.5,528.3 L377.0,528.0 L378.5,527.3 L380.0,527.4 L381.5,527.7 L383.0,527.9 L384.5,527.5 L386.0,526.8 L387.5,526.7 L389.0,527.1 L390.5,527.7 L392.0,527.1 L393.5,525.1 L395.0,523.4 L396.5,522.4 L398.0,521.3 L399.5,520.3 L401.0,519.2 L402.5,517.7 L404.0,516.4 L405.5,515.7 L407.0,515.0 L408.5,514.0 L410.0,513.3 L411.5,512.3 L413.0,511.2 L414.5,510.2 L416.0,509.0 L417.5,508.6 L419.0,508.0 L420.5,506.4 L422.0,505.3 L423.5,505.0 L425.0,504.3 L426.5,503.1 L428.0,501.6 L429.5,500.3 L431.0,498.4 L432.5,496.5 L434.0,495.2 L435.5,493.8 L437.0,492.2 L438.5,491.1 L440.0,489.9 L441.5,488.4 L443.0,486.5 L444.5,484.7 L446.0,483.9 L447.5,483.6 L449.0,482.8 L450.5,481.5 L452.0,480.0 L453.5,478.5 L455.0,476.7 L456.5,475.0 L458.0,474.1 L459.5,473.2 L461.0,471.8 L462.5,471.0 L464.0,470.6 L465.5,469.2 L467.0,467.6 L468.5,467.0 L470.0,465.9 L471.5,464.6 L473.0,463.9 L474.5,462.7 L476.0,461.3 L477.5,461.0 L479.0,461.3 L480.5,460.9 L482.0,459.8 L483.5,458.5 L485.0,458.4 L486.5,459.8 L488.0,460.8 L489.5,461.0 L491.0,461.9 L492.5,463.5 L494.0,464.3 L495.5,464.6 L497.0,465.0 L498.5,465.3 L500.0,466.0 L501.5,465.7 L503.0,464.6 L504.5,464.4 L506.0,465.4 L507.5,465.7 L509.0,465.3 L510.5,464.2 L512.0,462.9 L513.5,463.7 L515.0,465.5 L516.5,466.7 L518.0,467.6 L519.5,468.3 L521.0,469.4 L522.5,470.7 L524.0,471.7 L525.5,472.8 L527.0,474.0 L528.5,475.3 L530.0,476.8 L531.5,477.5 L533.0,477.5 L534.5,478.1 L536.0,479.4 L537.5,480.4 L539.0,481.2 L540.5,482.4 L542.0,483.6 L543.5,484.1 L545.0,484.4 L546.5,485.0 L548.0,486.2 L549.5,487.9 L551.0,489.0 L552.5,489.3 L554.0,490.3 L555.5,491.8 L557.0,493.4 L558.5,495.0 L560.0,495.9 L561.5,496.6 L563.0,497.8 L564.5,499.4 L566.0,500.1 L567.5,500.5 L569.0,500.4 L570.5,499.9 L572.0,500.3 L573.5,501.5 L575.0,502.7 L576.5,503.4 L578.0,504.1 L579.5,504.8 L581.0,505.5 L582.5,506.2 L584.0,506.2 L585.5,506.0 L587.0,507.1 L588.5,508.3 L590.0,508.7 L591.5,509.8 L593.0,510.6 L594.5,510.4 L596.0,510.5 L597.5,511.0 L599.0,511.7 L600.5,511.8 L602.0,511.8 L603.5,512.4 L605.0,512.9 L606.5,513.4 L608.0,514.0 L609.5,514.3 L611.0,514.7 L612.5,516.2 L614.0,517.4 L615.5,517.1 L617.0,516.8 L618.5,517.5 L620.0,518.6 L621.5,519.3 L623.0,519.5 L624.5,519.5 L626.0,520.1 L627.5,521.4 L629.0,522.4 L630.5,520.6 L632.0,518.7 L633.5,518.4 L635.0,518.2 L636.5,518.3 L638.0,518.4 L639.5,520.1 L641.0,522.2 L642.5,523.3 L644.0,523.7 L645.5,524.3 L647.0,525.8 L648.5,527.5 L650.0,529.2 L651.5,529.2 L653.0,528.8 L654.5,528.5 L656.0,527.7 L657.5,527.4 L659.0,527.7 L660.5,527.7 L662.0,527.5 L663.5,527.6 L665.0,527.1 L666.5,526.3 L668.0,526.1 L669.5,525.7 L671.0,525.2 L672.5,525.4 L674.0,526.3 L675.5,526.0 L677.0,525.2 L678.5,525.6 L680.0,525.7 L681.5,525.1 L683.0,525.4 L684.5,525.8 L686.0,525.7 L687.5,525.8 L689.0,526.0 L690.5,525.5 L692.0,525.2 L693.5,525.7 L695.0,526.8 L696.5,527.5 L698.0,527.2 L699.5,527.2 L701.0,528.1 L702.5,528.7 L704.0,529.2 L705.5,529.5 L707.0,529.8 L708.5,530.3 L710.0,530.5 L711.5,530.5 L713.0,531.2 L714.5,533.2 L716.0,534.4 L717.5,533.7 L719.0,532.7 L720.5,532.9 L722.0,532.8 L723.5,531.8 L725.0,531.4 L726.5,531.3 L728.0,530.9 L729.5,530.9 L731.0,531.2 L732.5,530.7 L734.0,530.6 L735.5,530.7 L737.0,530.3 L738.5,530.8 L740.0,533.0 L741.5,534.7 L743.0,535.0 L744.5,533.5 L746.0,530.5 L747.5,526.6 L749.0,520.0 L750.5,507.4 L752.0,486.8 L753.5,456.9 L755.0,419.6 L756.5,379.1 L758.0,342.9 L759.5,318.9 L761.0,312.6 L762.5,326.6 L764.0,357.5 L765.5,396.7 L767.0,436.2 L768.5,470.2 L770.0,495.0 L771.5,511.2 L773.0,521.2 L774.5,526.4 L776.0,528.7 L777.5,529.7 L779.0,530.1 L780.5,530.4 L782.0,530.0 L783.5,529.7 L785.0,529.4 L786.5,529.2 L788.0,529.2 L789.5,529.1 L791.0,528.5 L792.5,527.6 L794.0,527.0 L795.5,527.0 L797.0,526.6 L798.5,525.9 L800.0,525.6 L801.5,525.7 L803.0,526.1 L804.5,526.7 L806.0,527.6 L807.5,528.2 L809.0,528.2 L810.5,527.8 L812.0,527.8 L813.5,528.8 L815.0,530.1 L816.5,530.3 L818.0,529.8 L819.5,530.4 L821.0,531.0 L822.5,530.3 L824.0,530.6 L825.5,531.6 L827.0,531.6 L828.5,531.5 L830.0,532.4 L831.5,532.9 L833.0,532.5 L834.5,532.1 L836.0,532.7 L837.5,533.7 L839.0,534.0 L840.5,534.0 L842.0,534.1 L843.5,534.4 L845.0,534.4 L846.5,534.5 L848.0,534.3 L849.5,534.3 L851.0,534.6 L852.5,534.2 L854.0,534.1 L855.5,534.4 L857.0,533.9 L858.5,533.9 L860.0,534.7 L861.5,534.8 L863.0,534.5 L864.5,534.8 L866.0,534.6 L867.5,534.0 L869.0,533.7 L870.5,532.7 L872.0,531.0 L873.5,529.5 L875.0,529.3 L876.5,530.0 L878.0,529.7 L879.5,528.9 L881.0,528.7 L882.5,528.4 L884.0,527.1 L885.5,526.0 L887.0,526.2 L888.5,526.9 L890.0,527.4 L891.5,527.1 L893.0,525.6 L894.5,523.0 L896.0,517.5 L897.5,506.7 L899.0,487.8 L900.5,456.3 L902.0,410.0 L903.5,350.1 L905.0,281.3 L906.5,212.2 L908.0,154.7 L909.5,120.6 L911.0,117.2 L912.5,145.4 L914.0,199.5 L915.5,268.7 L917.0,339.5 L918.5,401.2 L920.0,449.4 L921.5,483.5 L923.0,505.5 L924.5,518.6 L926.0,525.6 L927.5,529.6 L929.0,532.7 L930.5,535.3 L932.0,536.9 L933.5,538.4 L935.0,540.0 L936.5,540.2 L938.0,539.5 L939.5,539.0 L941.0,538.4 L942.5,536.5 L944.0,535.5 L945.5,535.7 L947.0,535.2 L948.5,534.3 L950.0,533.5 L951.5,532.8 L953.0,532.0 L954.5,531.3 L956.0,530.3 L957.5,529.7 L959.0,529.5 L960.5,529.4 L962.0,529.0 L963.5,529.0 L965.0,528.9 L966.5,528.4 L968.0,527.7 L969.5,526.9 L971.0,526.4 L972.5,526.0 L974.0,525.3 L975.5,525.0 L977.0,524.7 L978.5,523.7 L980.0,522.9 L981.5,522.5 L983.0,521.8 L984.5,522.0 L986.0,522.3 L987.5,522.1 L989.0,522.2 L990.5,522.7 L992.0,523.3 L993.5,523.7 L995.0,523.4 L996.5,523.2 L998.0,524.8 L999.5,526.6 L1001.0,527.1 L1002.5,527.7 L1004.0,528.6 L1005.5,528.8 L1007.0,529.1 L1008.5,529.5 L1010.0,529.4 L1011.5,529.4 L1013.0,529.2 L1014.5,528.7 L1016.0,528.7 L1017.5,528.8 L1019.0,529.0 L1020.5,529.4 L1022.0,529.1 L1023.5,528.3 L1025.0,527.9 L1026.5,528.5 L1028.0,529.0 L1029.5,528.8 L1031.0,528.8 L1032.5,528.6 L1034.0,527.9 L1035.5,528.0 L1037.0,528.2 L1038.5,528.1 L1040.0,528.3 L1041.5,528.3 L1043.0,528.1 L1044.5,526.9 L1046.0,525.1 L1047.5,522.2 L1049.0,518.1 L1050.5,514.4 L1052.0,512.1 L1053.5,511.9 L1055.0,513.8 L1056.5,517.0 L1058.0,520.7 L1059.5,524.4 L1061.0,527.4 L1062.5,529.2 L1064.0,530.3 L1065.5,530.6 L1067.0,530.3 L1068.5,530.6 L1070.0,531.4 L1071.5,532.0 L1073.0,531.9 L1074.5,531.6 L1076.0,532.6 L1077.5,533.8 L1079.0,534.2 L1080.5,534.6 L1082.0,534.9 L1083.5,535.3 L1085.0,535.7 L1086.5,534.9 L1088.0,534.0 L1089.5,534.3 L1091.0,534.1 L1092.5,533.4 L1094.0,532.9 L1095.5,532.2 L1097.0,531.2 L1098.5,530.3 L1100.0,528.6 L1101.5,526.0 L1103.0,522.4 L1104.5,515.8 L1106.0,504.6 L1107.5,487.8 L1109.0,464.4 L1110.5,435.6 L1112.0,403.1 L1113.5,370.8 L1115.0,345.8 L1116.5,333.0 L1118.0,333.7 L1119.5,348.6 L1121.0,374.1 L1122.5,405.1 L1124.0,437.2 L1125.5,465.8 L1127.0,488.7 L1128.5,505.7 L1130.0,517.0 L1131.5,523.7 L1133.0,527.3 L1134.5,529.2 L1136.0,529.5 L1137.5,529.2 L1139.0,529.5 L1140.5,530.2 L1142.0,530.3 L1143.5,530.1 L1145.0,530.4 L1146.5,530.4 L1148.0,530.3 L1149.5,531.1 L1151.0,531.9 L1152.5,532.2 L1154.0,532.7 L1155.5,533.0 L1157.0,533.0 L1158.5,532.9 L1160.0,533.3 L1161.5,533.9 L1163.0,533.2 L1164.5,532.0 L1166.0,531.6 L1167.5,531.5 L1169.0,531.2 L1170.5,530.0 L1172.0,528.8 L1173.5,527.9 L1175.0,526.7 L1176.5,525.8 L1178.0,525.7 L1179.5,526.2 L1181.0,526.3 L1182.5,525.8 L1184.0,525.8 L1185.5,526.2 L1187.0,526.2 L1188.5,526.4 L1190.0,526.6 L1191.5,526.4 L1193.0,526.0 L1194.5,525.7 L1196.0,525.8 L1197.5,525.9 L1199.0,526.4 L1200.5,526.9 L1202.0,527.5 L1203.5,527.5 L1205.0,526.6 L1206.5,526.9 L1208.0,527.7 L1209.5,528.2 L1211.0,528.5 L1212.5,528.4 L1214.0,528.3 L1215.5,528.5 L1217.0,528.8 L1218.5,529.0 L1220.0,529.6 L1221.5,530.0 L1223.0,529.9 L1224.5,530.0 L1226.0,530.5 L1227.5,531.0 L1229.0,531.7 L1230.5,532.0 L1232.0,531.7 L1233.5,531.8 L1235.0,532.6 L1236.5,532.8 L1238.0,532.5 L1239.5,532.8 L1241.0,533.0 L1242.5,532.7 L1244.0,533.0 L1245.5,533.7 L1247.0,533.7 L1248.5,533.4 L1250.0,533.3 L1251.5,533.1 L1253.0,532.5 L1254.5,531.7 L1256.0,531.6 L1257.5,531.7 L1259.0,531.1 L1260.5,530.7 L1262.0,531.2 L1263.5,531.5 L1265.0,531.1 L1266.5,530.7 L1268.0,530.6 L1269.5,530.4 L1271.0,530.6 L1272.5,530.3 L1274.0,529.6 L1275.5,529.8 L1277.0,529.8 L1278.5,529.4 L1280.0,529.5 L1281.5,529.8 L1283.0,529.9 L1284.5,529.2 L1286.0,528.6 L1287.5,528.7 L1289.0,528.8 L1290.5,529.7 L1292.0,530.8 L1293.5,530.9 L1295.0,531.2 L1296.5,532.3 L1298.0,533.0 L1299.5,532.6 L1301.0,531.7 L1302.5,531.2 L1304.0,530.2 L1305.5,529.2 L1307.0,529.4 L1308.5,529.5 L1310.0,528.0 L1311.5,527.0 L1313.0,526.8 L1314.5,525.8 L1316.0,523.9 L1317.5,522.7 L1319.0,521.9 L1320.5,520.1 L1322.0,516.9 L1323.5,512.5 L1325.0,508.0 L1326.5,503.3 L1328.0,497.5 L1329.5,491.8 L1331.0,487.3 L1332.5,483.9 L1334.0,483.0 L1335.5,484.6 L1337.0,487.3 L1338.5,491.2 L1340.0,495.7 L1341.5,500.5 L1343.0,506.2 L1344.5,512.4 L1346.0,517.2 L1347.5,519.7 L1349.0,521.2 L1350.5,523.2 L1352.0,525.4 L1353.5,526.1 L1355.0,525.8 L1356.5,526.5 L1358.0,527.5 L1359.5,527.3 L1361.0,526.5 L1362.5,526.3 L1364.0,526.3 L1365.5,525.6 L1367.0,525.1 L1368.5,525.8 L1370.0,526.8 L1371.5,526.9 L1373.0,526.2 L1374.5,525.1 L1376.0,524.5 L1377.5,524.9 L1379.0,525.7 L1380.5,525.9 L1382.0,525.3 L1383.5,524.5 L1385.0,523.0 L1386.5,521.0 L1388.0,517.5 L1389.5,509.2 L1391.0,494.3 L1392.5,472.4 L1394.0,443.7 L1395.5,410.5 L1397.0,379.7 L1398.5,358.8 L1400.0,354.3 L1401.5,367.2 L1403.0,393.1 L1404.5,425.9 L1406.0,458.7 L1407.5,485.8 L1409.0,504.7 L1410.5,516.4 L1412.0,523.4 L1413.5,526.6 L1415.0,527.8 L1416.5,528.8 L1418.0,529.2 L1419.5,529.2 L1421.0,529.0 L1422.5,528.2 L1424.0,527.8 L1425.5,528.6 L1427.0,529.4 L1428.5,529.4 L1430.0,529.0 L1431.5,528.7 L1433.0,529.1 L1434.5,529.4 L1436.0,528.9 L1437.5,528.7 L1439.0,529.2 L1440.5,529.4 L1442.0,529.5 L1443.5,529.6 L1445.0,529.0 L1446.5,527.8 L1448.0,527.7 L1449.5,528.6 L1451.0,528.8 L1452.5,528.6 L1454.0,528.9 L1455.5,529.2 L1457.0,529.2 L1458.5,528.9 L1460.0,528.4 L1461.5,528.0 L1463.0,527.8 L1464.5,527.6 L1466.0,528.0 L1467.5,528.4 L1469.0,528.2 L1470.5,527.6 L1472.0,526.9 L1473.5,526.6 L1475.0,526.7 L1476.5,527.2 L1478.0,527.8 L1479.5,528.1 L1481.0,528.4 L1482.5,528.2 L1484.0,527.7 L1485.5,527.9 L1487.0,528.6 L1488.5,528.7 L1490.0,528.2 L1491.5,528.3 L1493.0,529.2 L1494.5,529.4 L1496.0,529.2 L1497.5,528.8 L1499.0,528.6 L1500.5,529.1 L1502.0,529.6 L1503.5,529.9 L1505.0,530.1 L1506.5,530.2 L1508.0,530.3 L1509.5,530.1 L1511.0,530.1 L1512.5,529.8 L1514.0,529.1 L1515.5,529.1 L1517.0,529.8 L1518.5,530.5 L1520.0,531.0 L1521.5,531.2 L1523.0,530.9 L1524.5,530.7 L1526.0,530.7 L1527.5,530.4 L1529.0,530.5 L1530.5,530.7 L1532.0,530.9 L1533.5,530.9 L1535.0,531.5 L1536.5,532.5 L1538.0,533.0 L1539.5,533.1 L1541.0,532.3 L1542.5,531.6 L1544.0,531.5 L1545.5,531.4 L1547.0,531.3 L1548.5,531.7 L1550.0,531.7 L1551.5,531.2 L1553.0,531.1 L1554.5,531.7 L1556.0,532.3 L1557.5,532.4 L1559.0,532.2 L1560.5,532.8 L1562.0,533.8 L1563.5,534.5 L1565.0,534.3 L1566.5,533.9 L1568.0,533.6 L1569.5,533.6 L1571.0,533.5 L1572.5,533.7 L1574.0,534.3 L1575.5,534.7 L1577.0,535.1 L1578.5,535.1 L1580.0,534.7 L1581.5,534.3 L1583.0,534.5 L1584.5,535.1 L1586.0,535.5 L1587.5,535.7 L1589.0,535.3 L1590.5,535.6 L1592.0,536.1 L1593.5,535.5 L1595.0,535.3 L1596.5,535.9 L1598.0,535.6 L1599.5,535.4 L1601.0,535.8 L1602.5,534.8 L1604.0,534.1 L1605.5,534.5 L1607.0,534.5 L1608.5,534.4 L1610.0,534.3 L1611.5,533.6 L1613.0,533.3 L1614.5,533.6 L1616.0,533.5 L1617.5,533.2 L1619.0,533.6 L1620.5,533.2 L1622.0,532.4 L1623.5,532.5 L1625.0,533.0 L1626.5,533.2 L1628.0,533.1 L1629.5,532.6 L1631.0,532.2 L1632.5,531.4 L1634.0,530.8 L1635.5,531.3 L1637.0,531.9 L1638.5,531.8 L1640.0,531.2 L1641.5,530.7 L1643.0,531.1 L1644.5,531.3 L1646.0,531.3 L1647.5,531.2 L1649.0,531.1 L1650.5,531.6 L1652.0,532.1 L1653.5,531.6 L1655.0,530.4 L1656.5,529.7 L1658.0,530.2 L1659.5,530.5 L1661.0,530.2 L1662.5,529.6 L1664.0,528.7 L1665.5,528.5 L1667.0,528.9 L1668.5,529.1 L1670.0,528.7 L1671.5,528.8 L1673.0,529.1 L1674.5,528.7 L1676.0,528.9 L1677.5,529.2 L1679.0,528.5 L1680.5,528.0 L1682.0,527.9 L1683.5,527.7 L1685.0,527.4 L1686.5,527.3 L1688.0,527.1 L1689.5,526.2 L1691.0,522.8 L1692.5,517.5 L1694.0,511.7 L1695.5,505.3 L1697.0,498.5 L1698.5,492.9 L1700.0,490.8 L1701.5,492.8 L1703.0,497.1 L1704.5,503.4 L1706.0,510.5 L1707.5,516.5 L1709.0,521.1 L1710.5,523.9 L1712.0,525.5 L1713.5,527.0 L1715.0,527.6 L1716.5,527.1 L1718.0,527.0 L1719.5,527.3 L1721.0,527.4 L1722.5,527.5 L1724.0,528.3 L1725.5,529.7 L1727.0,530.0 L1728.5,529.3 L1730.0,529.0 L1731.5,529.9 L1733.0,530.9 L1734.5,530.4 L1736.0,530.0 L1737.5,531.0 L1739.0,531.6 L1740.5,531.9 L1742.0,531.9 L1743.5,531.9 L1745.0,532.7 L1746.5,532.8 L1748.0,531.6 L1749.5,530.6 L1751.0,530.6 L1752.5,531.2 L1754.0,531.6 L1755.5,531.3 L1757.0,531.0 L1758.5,531.0 L1760.0,530.9 L1761.5,531.0 L1763.0,531.2 L1764.5,530.8 L1766.0,530.2 L1767.5,530.1 L1769.0,530.6 L1770.5,531.2 L1772.0,530.9 L1773.5,530.0 L1775.0,529.5 L1776.5,528.5 L1778.0,528.1 L1779.5,528.3 L1781.0,527.6 L1782.5,525.7 L1784.0,523.2 L1785.5,518.8 L1787.0,511.6 L1788.5,503.6 L1790.0,497.1 L1791.5,492.9 L1793.0,491.3 L1794.5,493.5 L1796.0,499.1 L1797.5,506.2 L1799.0,512.9 L1800.5,518.3 L1802.0,522.1 L1803.5,524.1 L1805.0,524.4 L1806.5,524.6 L1808.0,524.7 L1809.5,524.8 L1811.0,525.6 L1812.5,525.9 L1814.0,525.6 L1815.5,526.0 L1817.0,525.7 L1818.5,524.6 L1820.0,524.1 L1821.5,524.7 L1823.0,525.2 L1824.5,525.4 L1826.0,525.6 L1827.5,525.6 L1829.0,525.4 L1830.5,525.0 L1832.0,524.9 L1833.5,525.5 L1835.0,526.0 L1836.5,526.0 L1838.0,525.6 L1839.5,525.2 L1841.0,525.3 L1842.5,525.1 L1844.0,525.0 L1845.5,525.3 L1847.0,525.2 L1848.5,524.9 L1850.0,525.2 L1851.5,526.0 L1853.0,525.9 L1854.5,524.9 L1856.0,525.0 L1857.5,525.9 L1859.0,526.2 L1860.5,525.7 L1862.0,525.1 L1863.5,525.1 L1865.0,525.3 L1866.5,525.0 L1868.0,524.7 L1869.5,525.4 L1871.0,526.6 L1872.5,526.3 L1874.0,525.8 L1875.5,526.1 L1877.0,526.0 L1878.5,525.8 L1880.0,525.8 L1881.5,525.5 L1883.0,525.8 L1884.5,526.4 L1886.0,526.2 L1887.5,526.0 L1889.0,526.4 L1890.5,525.9 L1892.0,525.4 L1893.5,526.2 L1895.0,526.7 L1896.5,526.2 L1898.0,526.1 L1899.5,526.7 L1901.0,526.8 L1902.5,526.6 L1904.0,526.6 L1905.5,527.1 L1907.0,527.3 L1908.5,526.7 L1910.0,526.9 L1911.5,528.0 L1913.0,528.3 L1914.5,528.2 L1916.0,528.7 L1917.5,529.1 L1919.0,529.2 L1920.5,529.7 L1922.0,530.3 L1923.5,530.4 L1925.0,530.4 L1926.5,530.0 L1928.0,529.5 L1929.5,529.3 L1931.0,529.1 L1932.5,529.5 L1934.0,529.9 L1935.5,529.7 L1937.0,528.8 L1938.5,528.4 L1940.0,528.7 L1941.5,528.5 L1943.0,528.0 L1944.5,528.1 L1946.0,528.6 L1947.5,528.8 L1949.0,529.3 L1950.5,529.3 L1952.0,528.3 L1953.5,528.5 L1955.0,529.5 L1956.5,529.0 L1958.0,528.1 L1959.5,528.6 L1961.0,528.6 L1962.5,527.7 L1964.0,528.1 L1965.5,528.6 L1967.0,528.0 L1968.5,527.9 L1970.0,527.9 L1971.5,527.6 L1973.0,528.2 L1974.5,528.7 L1976.0,528.0 L1977.5,527.6 L1979.0,528.3 L1980.5,528.4 L1982.0,527.9 L1983.5,527.6 L1985.0,527.9 L1986.5,527.9 L1988.0,527.1 L1989.5,526.3 L1991.0,526.6 L1992.5,527.5 L1994.0,527.8 L1995.5,527.4 L1997.0,527.6 L1998.5,528.1 L2000.0,528.2 L2001.5,527.5 L2003.0,527.3 L2004.5,527.8 L2006.0,528.3 L2007.5,527.8 L2009.0,527.1 L2010.5,527.3 L2012.0,527.2 L2013.5,527.0 L2015.0,527.3 L2016.5,527.1 L2018.0,526.6 L2019.5,526.9 L2021.0,527.5 L2022.5,527.2 L2024.0,525.9 L2025.5,524.5 L2027.0,522.9 L2028.5,520.2 L2030.0,517.1 L2031.5,514.2 L2033.0,511.4 L2034.5,509.6 L2036.0,508.6 L2037.5,508.5 L2039.0,509.7 L2040.5,512.2 L2042.0,515.1 L2043.5,518.0 L2045.0,521.1 L2046.5,523.7 L2048.0,525.3 L2049.5,526.7 L2051.0,527.2 L2052.5,527.1 L2054.0,527.9 L2055.5,528.0 L2057.0,527.7 L2058.5,528.0 L2060.0,528.1 L2061.5,528.2 L2063.0,528.7 L2064.5,529.1 L2066.0,529.2 L2067.5,529.6 L2069.0,530.1 L2070.5,530.0 L2072.0,529.2 L2073.5,528.7 L2075.0,528.7 L2076.5,528.5 L2078.0,528.5 L2079.5,528.7 L2081.0,528.5 L2082.5,527.7 L2084.0,527.1 L2085.5,527.0 L2087.0,526.9 L2088.5,526.3 L2090.0,525.6 L2091.5,525.4 L2093.0,525.2 L2094.5,525.2 L2096.0,525.2 L2097.5,525.0 L2099.0,525.2 L2100.5,524.9 L2102.0,524.5 L2103.5,524.2 L2105.0,524.3 L2106.5,524.5 L2108.0,524.5 L2109.5,524.0 L2111.0,523.6 L2112.5,524.5 L2114.0,524.5 L2115.5,523.8 L2117.0,524.3 L2118.5,525.0 L2120.0,524.9 L2121.5,524.5 L2123.0,523.7 L2124.5,523.5 L2126.0,523.7 L2127.5,523.2 L2129.0,522.1 L2130.5,520.9 L2132.0,519.8 L2133.5,518.9 L2135.0,517.3 L2136.5,516.3 L2138.0,516.3 L2139.5,515.7 L2141.0,515.1 L2142.5,515.2 L2144.0,515.9 L2145.5,517.5 L2147.0,518.7 L2148.5,519.8 L2150.0,520.7 L2151.5,521.3 L2153.0,522.8 L2154.5,524.4 L2156.0,524.9 L2157.5,525.8 L2159.0,527.0 L2160.5,527.4 L2162.0,527.3 L2163.5,527.9 L2165.0,528.4 L2166.5,528.7 L2168.0,529.1 L2169.5,529.0 L2171.0,528.8 L2172.5,529.1 L2174.0,529.4 L2175.5,529.7 L2177.0,530.3 L2178.5,531.1 L2180.0,531.5 L2181.5,531.2 L2183.0,531.1 L2184.5,531.2 L2186.0,531.1 L2187.5,530.9 L2189.0,531.1 L2190.5,531.7 L2192.0,531.9 L2193.5,532.2 L2195.0,532.6 L2196.5,532.2 L2198.0,531.9 L2199.5,532.4 L2201.0,532.1 L2202.5,531.2 L2204.0,531.1 L2205.5,531.1 L2207.0,531.4 L2208.5,531.9 L2210.0,532.0 L2211.5,532.1 L2213.0,532.0 L2214.5,532.0 L2216.0,532.3 L2217.5,532.1 L2219.0,531.6" fill="none" stroke="#c41420" stroke-width="6.0" stroke-linejoin="round"/>
<line x1="247.2" y1="399" x2="247.2" y2="1016.3" stroke="#737373" stroke-width="2.5" stroke-dasharray="21.4 3.4"/><line x1="491.9" y1="386.5" x2="491.9" y2="1002" stroke="#8f8f8f" stroke-width="4.9" stroke-dasharray="22 2.6"/>
<rect x="1317.6" y="667.4" width="38.4" height="37.4" fill="none" stroke="#000" stroke-width="2.6"/>
<rect x="1559.5" y="94.7" width="298.4" height="281.1" fill="#fff" stroke="#222" stroke-width="2.2"/><path d="M1561.0,226.1 L1562.2,228.9 L1563.4,228.8 L1564.6,225.5 L1565.8,226.1 L1567.0,225.9 L1568.2,228.2 L1569.4,227.2 L1570.6,229.0 L1571.8,224.0 L1573.0,231.0 L1574.2,227.8 L1575.4,229.6 L1576.6,228.1 L1577.8,227.8 L1579.0,229.7 L1580.2,230.6 L1581.4,228.7 L1582.6,229.0 L1583.8,230.9 L1585.0,228.0 L1586.2,226.8 L1587.4,230.9 L1588.6,228.9 L1589.8,226.6 L1591.0,229.0 L1592.2,229.9 L1593.4,228.6 L1594.6,228.2 L1595.8,231.4 L1597.0,233.3 L1598.2,231.3 L1599.4,230.4 L1600.6,232.7 L1601.8,233.3 L1603.0,231.2 L1604.2,232.8 L1605.4,233.7 L1606.6,231.1 L1607.8,229.8 L1609.0,232.0 L1610.2,231.7 L1611.4,233.3 L1612.6,228.5 L1613.8,229.6 L1615.0,229.2 L1616.2,227.3 L1617.4,230.9 L1618.6,231.7 L1619.8,229.0 L1621.0,233.2 L1622.2,232.0 L1623.4,231.5 L1624.6,231.0 L1625.8,232.0 L1627.0,227.3 L1628.2,231.1 L1629.4,231.0 L1630.6,226.2 L1631.8,230.3 L1633.0,229.0 L1634.2,231.0 L1635.4,228.5 L1636.6,229.2 L1637.8,229.9 L1639.0,227.3 L1640.2,230.2 L1641.4,228.7 L1642.6,229.9 L1643.8,227.8 L1645.0,231.0 L1646.2,230.0 L1647.4,228.4 L1648.6,230.0 L1649.8,231.2 L1651.0,232.2 L1652.2,225.4 L1653.4,230.3 L1654.6,229.4 L1655.8,228.3 L1657.0,226.4 L1658.2,230.9 L1659.4,225.8 L1660.6,229.4 L1661.8,230.9 L1663.0,225.0 L1664.2,227.6 L1665.4,225.5 L1666.6,228.6 L1667.8,231.1 L1669.0,232.1 L1670.2,224.4 L1671.4,226.8 L1672.6,229.3 L1673.8,231.0 L1675.0,228.7 L1676.2,226.3 L1677.4,228.3 L1678.6,227.7 L1679.8,227.3 L1681.0,226.2 L1682.2,228.4 L1683.4,228.2 L1684.6,227.3 L1685.8,227.0 L1687.0,224.9 L1688.2,226.4 L1689.4,229.8 L1690.6,226.9 L1691.8,224.4 L1693.0,229.9 L1694.2,228.3 L1695.4,231.4 L1696.6,227.2 L1697.8,226.2 L1699.0,224.1 L1700.2,229.7 L1701.4,232.2 L1702.6,225.5 L1703.8,226.0 L1705.0,228.5 L1706.2,225.8 L1707.4,227.0 L1708.6,226.9 L1709.8,228.0 L1711.0,229.9 L1712.2,227.9 L1713.4,229.7 L1714.6,227.1 L1715.8,228.7 L1717.0,223.9 L1718.2,225.3 L1719.4,229.9 L1720.6,227.2 L1721.8,229.6 L1723.0,229.6 L1724.2,231.3 L1725.4,230.3 L1726.6,230.8 L1727.8,228.5 L1729.0,227.2 L1730.2,226.6 L1731.4,225.8 L1732.6,222.0 L1733.8,219.0 L1735.0,214.8 L1736.2,210.8 L1737.4,207.2 L1738.6,205.0 L1739.8,212.7 L1741.0,218.7 L1742.2,225.4 L1743.4,228.0 L1744.6,227.7 L1745.8,228.6 L1747.0,234.6 L1748.2,232.3 L1749.4,234.6 L1750.6,235.3 L1751.8,229.5 L1753.0,232.1 L1754.2,232.3 L1755.4,232.7 L1756.6,232.7 L1757.8,232.2 L1759.0,232.2 L1760.2,229.0 L1761.4,231.7 L1762.6,230.6 L1763.8,232.4 L1765.0,231.3 L1766.2,233.5 L1767.4,233.9 L1768.6,233.0 L1769.8,233.0 L1771.0,232.6 L1772.2,231.6 L1773.4,232.2 L1774.6,231.6 L1775.8,233.4 L1777.0,232.7 L1778.2,233.9 L1779.4,230.2 L1780.6,234.6 L1781.8,231.4 L1783.0,231.5 L1784.2,232.6 L1785.4,231.9 L1786.6,233.7 L1787.8,232.0 L1789.0,231.1 L1790.2,231.6 L1791.4,235.9 L1792.6,233.4 L1793.8,231.1 L1795.0,233.5 L1796.2,230.4 L1797.4,237.1 L1798.6,230.6 L1799.8,234.6 L1801.0,234.8 L1802.2,230.9 L1803.4,234.4 L1804.6,235.9 L1805.8,234.8 L1807.0,234.5 L1808.2,235.9 L1809.4,234.4 L1810.6,234.8 L1811.8,233.9 L1813.0,235.5 L1814.2,232.4 L1815.4,235.9 L1816.6,233.3 L1817.8,232.2 L1819.0,235.2 L1820.2,237.9 L1821.4,236.5 L1822.6,233.6 L1823.8,236.1 L1825.0,233.8 L1826.2,234.5 L1827.4,235.0 L1828.6,230.2 L1829.8,235.3 L1831.0,232.9 L1832.2,233.6 L1833.4,232.1 L1834.6,232.1 L1835.8,233.3 L1837.0,236.9 L1838.2,238.6 L1839.4,235.3 L1840.6,237.5 L1841.8,234.9 L1843.0,231.6 L1844.2,235.8 L1845.4,236.4 L1846.6,234.8 L1847.8,236.3 L1849.0,236.9 L1850.2,234.0 L1851.4,232.9 L1852.6,235.4 L1853.8,235.5 L1855.0,235.3" fill="none" stroke="#e8907e" stroke-width="1.6" stroke-linejoin="round"/><line x1="1559.5" y1="275.3" x2="1857.9" y2="275.3" stroke="#000" stroke-width="3.6"/><line x1="1592.3" y1="275.3" x2="1592.3" y2="298.6" stroke="#000" stroke-width="2.6"/><line x1="1818" y1="275.3" x2="1818" y2="298.6" stroke="#000" stroke-width="2.6"/><line x1="1705.1" y1="275.3" x2="1705.1" y2="287.9" stroke="#000" stroke-width="2.6"/>
<polygon points="1937.9,162.6 1926.2,184.4 1949.7,184.4" fill="#1ccf78"/><polygon points="996.8,475.5 985.0,495.0 1008.5,495.0" fill="#1ccf78"/><polygon points="1060.2,470.5 1048.5,490.5 1072.0,490.5" fill="#1ccf78"/><polygon points="902.3,799.2 890.5,819.4 914.0,819.4" fill="#1ccf78"/><polygon points="994.2,799.2 982.5,819.4 1006.0,819.4" fill="#1ccf78"/><polygon points="1060.8,799.2 1049.0,819.4 1072.5,819.4" fill="#1ccf78"/><polygon points="1452.0,821.8 1440.2,842.0 1463.8,842.0" fill="#1ccf78"/><polygon points="1763.8,821.8 1752.0,842.0 1775.5,842.0" fill="#1ccf78"/><polygon points="1979.5,821.8 1967.8,842.0 1991.2,842.0" fill="#1ccf78"/><polygon points="2154.2,821.8 2142.4,842.0 2165.9,842.0" fill="#1ccf78"/>
<circle cx="1938.6" cy="273.9" r="10.6" fill="#0b4690"/><circle cx="1119.5" cy="291.8" r="10.6" fill="#0b4690"/><circle cx="1333.2" cy="447.1" r="10.6" fill="#0b4690"/><circle cx="2036.5" cy="477.2" r="10.6" fill="#0b4690"/><circle cx="1124.7" cy="664.0" r="10.6" fill="#0b4690"/><circle cx="1333.8" cy="645.0" r="10.6" fill="#0b4690"/>
<line x1="130.5" y1="40.8" x2="2229.8" y2="40.8" stroke="#000" stroke-width="7.6"/><line x1="135.25" y1="37" x2="135.25" y2="1097" stroke="#000" stroke-width="9.5"/><line x1="2225" y1="37" x2="2225" y2="1096.5" stroke="#000" stroke-width="9.5"/><line x1="130.5" y1="1049" x2="2229.8" y2="1049" stroke="#000" stroke-width="9.6"/><line x1="483.5" y1="1050" x2="483.5" y2="1091" stroke="#000" stroke-width="8" stroke-linecap="round"/><line x1="831.8" y1="1050" x2="831.8" y2="1091" stroke="#000" stroke-width="8" stroke-linecap="round"/><line x1="1180.1" y1="1050" x2="1180.1" y2="1091" stroke="#000" stroke-width="8" stroke-linecap="round"/><line x1="1528.4" y1="1050" x2="1528.4" y2="1091" stroke="#000" stroke-width="8" stroke-linecap="round"/><line x1="1876.8" y1="1050" x2="1876.8" y2="1091" stroke="#000" stroke-width="8" stroke-linecap="round"/><line x1="309.4" y1="1050" x2="309.4" y2="1069" stroke="#000" stroke-width="8" stroke-linecap="round"/><line x1="657.7" y1="1050" x2="657.7" y2="1069" stroke="#000" stroke-width="8" stroke-linecap="round"/><line x1="1006.0" y1="1050" x2="1006.0" y2="1069" stroke="#000" stroke-width="8" stroke-linecap="round"/><line x1="1354.3" y1="1050" x2="1354.3" y2="1069" stroke="#000" stroke-width="8" stroke-linecap="round"/><line x1="1702.6" y1="1050" x2="1702.6" y2="1069" stroke="#000" stroke-width="8" stroke-linecap="round"/><line x1="2050.9" y1="1050" x2="2050.9" y2="1069" stroke="#000" stroke-width="8" stroke-linecap="round"/>
<text transform="translate(586.7 448.2) scale(1.042 1)" font-size="46.09" font-weight="bold" fill="#bf1428">MPAZ</text><text transform="translate(591.1 650.0) scale(0.971 1)" font-size="48.99" font-weight="bold" fill="#dc7666">MPA</text><text transform="translate(601.2 822.1) scale(0.965 1)" font-size="48.99" font-weight="bold" fill="#eaa544">MPZ</text><text x="633.6" y="945.3" font-size="45.65" font-weight="bold" fill="#163f86">M</text><text transform="translate(191.5 289.4) scale(1.098 1)" font-size="42.60" font-weight="normal" fill="#000" stroke="#000" stroke-width="0.94">13.97°</text><text transform="translate(424.7 337.7) scale(1.037 1)" font-size="44.25" font-weight="normal" fill="#000" stroke="#000" stroke-width="0.97">19.48°</text><text transform="translate(952.0 462.4) scale(0.966 1)" font-size="37.46" font-weight="normal" fill="#000">34.7°</text><text transform="translate(1011.2 342.0) scale(0.953 1)" font-size="37.89" font-weight="normal" fill="#000">36.6°</text><text transform="translate(1092.4 640.4) scale(0.937 1)" font-size="38.59" font-weight="normal" fill="#000">38.2°</text><text transform="translate(1304.8 630.9) scale(0.920 1)" font-size="38.97" font-weight="normal" fill="#000">44.4°</text><text transform="translate(2006.9 452.6) scale(0.984 1)" font-size="37.75" font-weight="normal" fill="#000">64.5°</text><text transform="translate(834.4 795.2) scale(0.897 1)" font-size="40.56" font-weight="normal" fill="#000">32.1°</text><text transform="translate(1413.1 804.8) scale(0.962 1)" font-size="37.79" font-weight="normal" fill="#000">47.4°</text><text x="1711.1" y="797.6" font-size="36.20" font-weight="normal" fill="#000">56.9°</text><text transform="translate(1943.0 797.3) scale(1.014 1)" font-size="36.90" font-weight="normal" fill="#000">62.7°</text><text transform="translate(2095.5 797.3) scale(1.007 1)" font-size="36.90" font-weight="normal" fill="#000">68.2°</text><text x="1565.1" y="350.4" font-size="48.59" font-weight="normal" fill="#000">40</text><text x="1791.1" y="350.4" font-size="48.59" font-weight="normal" fill="#000">50</text><text transform="translate(1987.4 194.1) scale(0.986 1)" font-size="48.17" font-weight="normal" fill="#000">ZnO</text><text transform="translate(1991.0 304.7) scale(1.018 1)" font-size="45.71" font-weight="normal" fill="#000">AgNPs</text><text transform="translate(102.7 1169.2) scale(0.975 1)" font-size="62.25" font-weight="normal" fill="#000">10</text><text transform="translate(449.4 1169.1) scale(0.991 1)" font-size="61.55" font-weight="normal" fill="#000">20</text><text transform="translate(797.0 1169.1) scale(0.981 1)" font-size="61.55" font-weight="normal" fill="#000">30</text><text transform="translate(1144.5 1169.1) scale(1.010 1)" font-size="61.55" font-weight="normal" fill="#000">40</text><text transform="translate(1494.2 1169.1) scale(0.981 1)" font-size="61.55" font-weight="normal" fill="#000">50</text><text transform="translate(1839.2 1169.1) scale(1.011 1)" font-size="61.55" font-weight="normal" fill="#000">60</text><text transform="translate(2190.0 1168.7) scale(0.993 1)" font-size="61.13" font-weight="normal" fill="#000">70</text><text transform="translate(1109.3 1261.4) scale(1.041 1)" font-size="59.73" font-weight="bold" fill="#000">2θ</text><text transform="translate(1195.5 1262.4) scale(0.925 1)" font-size="62.34" font-weight="normal" fill="#000">(</text><text transform="translate(1243.1 1262.4) scale(1.036 1)" font-size="62.34" font-weight="normal" fill="#000">)</text><text transform="translate(1214.6 1232.7) scale(1.130 1)" font-size="48.00" font-weight="normal" fill="#000">o</text><text transform="translate(1023.3 297.1) scale(0.850 1)" font-size="40.42" font-weight="normal" fill="#000">101</text><text transform="translate(1006.5 293.0) scale(1.267 1)" font-size="37.89" font-weight="normal" fill="#000" stroke="#fff" stroke-width="1.29">(</text><text transform="translate(1084.5 293.0) scale(1.267 1)" font-size="37.89" font-weight="normal" fill="#000" stroke="#fff" stroke-width="1.29">)</text><text transform="translate(962.2 418.2) scale(0.959 1)" font-size="40.70" font-weight="normal" fill="#000">002</text><text transform="translate(948.0 414.1) scale(0.983 1)" font-size="38.67" font-weight="normal" fill="#000" stroke="#fff" stroke-width="1.31">(</text><text transform="translate(1025.2 414.1) scale(1.241 1)" font-size="38.67" font-weight="normal" fill="#000" stroke="#fff" stroke-width="1.31">)</text><text transform="translate(1098.6 596.2) scale(0.873 1)" font-size="42.61" font-weight="normal" fill="#000">111</text><text transform="translate(1083.1 590.8) scale(1.069 1)" font-size="37.89" font-weight="normal" fill="#000" stroke="#fff" stroke-width="1.29">(</text><text transform="translate(1160.7 590.8) scale(0.950 1)" font-size="37.89" font-weight="normal" fill="#000" stroke="#fff" stroke-width="1.29">)</text><text transform="translate(1310.8 585.6) scale(0.913 1)" font-size="40.85" font-weight="normal" fill="#000">200</text><text transform="translate(1294.2 580.9) scale(1.271 1)" font-size="38.56" font-weight="normal" fill="#000" stroke="#fff" stroke-width="1.31">(</text><text transform="translate(1374.4 580.9) scale(1.024 1)" font-size="38.56" font-weight="normal" fill="#000" stroke="#fff" stroke-width="1.31">)</text><text transform="translate(2019.1 408.4) scale(0.988 1)" font-size="37.75" font-weight="normal" fill="#000">220</text><text transform="translate(2004.5 403.6) scale(1.259 1)" font-size="38.11" font-weight="normal" fill="#000" stroke="#fff" stroke-width="1.30">(</text><text transform="translate(2079.5 403.6) scale(1.325 1)" font-size="38.11" font-weight="normal" fill="#000" stroke="#fff" stroke-width="1.30">)</text><text transform="translate(842.6 748.0) scale(0.970 1)" font-size="37.46" font-weight="normal" fill="#000">100</text><text transform="translate(826.9 743.6) scale(1.259 1)" font-size="38.11" font-weight="normal" fill="#000" stroke="#fff" stroke-width="1.30">(</text><text transform="translate(902.6 743.6) scale(1.194 1)" font-size="38.11" font-weight="normal" fill="#000" stroke="#fff" stroke-width="1.30">)</text><text transform="translate(1420.7 758.0) scale(0.969 1)" font-size="37.75" font-weight="normal" fill="#000">102</text><text transform="translate(1403.9 755.5) scale(1.079 1)" font-size="40.78" font-weight="normal" fill="#000" stroke="#fff" stroke-width="1.39">(</text><text transform="translate(1479.9 755.5) scale(1.251 1)" font-size="40.78" font-weight="normal" fill="#000" stroke="#fff" stroke-width="1.39">)</text><text transform="translate(1718.2 753.0) scale(0.973 1)" font-size="40.56" font-weight="normal" fill="#000">110</text><text transform="translate(1702.3 748.7) scale(1.278 1)" font-size="37.56" font-weight="normal" fill="#000" stroke="#fff" stroke-width="1.28">(</text><text transform="translate(1780.1 748.7) scale(1.278 1)" font-size="37.56" font-weight="normal" fill="#000" stroke="#fff" stroke-width="1.28">)</text><text transform="translate(1951.5 753.0) scale(0.906 1)" font-size="40.56" font-weight="normal" fill="#000">103</text><text transform="translate(1935.7 748.8) scale(1.289 1)" font-size="38.00" font-weight="normal" fill="#000" stroke="#fff" stroke-width="1.29">(</text><text transform="translate(2013.3 748.8) scale(1.289 1)" font-size="38.00" font-weight="normal" fill="#000" stroke="#fff" stroke-width="1.29">)</text><text transform="translate(2103.7 753.4) scale(0.936 1)" font-size="41.43" font-weight="normal" fill="#000">112</text><text transform="translate(2088.4 748.5) scale(1.278 1)" font-size="37.56" font-weight="normal" fill="#000" stroke="#fff" stroke-width="1.28">(</text><text transform="translate(2166.2 748.5) scale(0.932 1)" font-size="37.56" font-weight="normal" fill="#000" stroke="#fff" stroke-width="1.28">)</text><text transform="translate(1669.9 174.1) scale(1.012 1)" font-size="36.90" font-weight="normal" fill="#000">200</text><text transform="translate(1655.8 174.9) scale(1.263 1)" font-size="38.00" font-weight="normal" fill="#000" stroke="#fff" stroke-width="1.29">(</text><text transform="translate(1733.8 174.9) scale(0.974 1)" font-size="38.00" font-weight="normal" fill="#000" stroke="#fff" stroke-width="1.29">)</text><text transform="translate(76.2 766.3) rotate(-90) scale(1.029 1)" font-size="60.27" font-weight="bold" fill="#000">Intensity</text>
</svg>
</body></html>
